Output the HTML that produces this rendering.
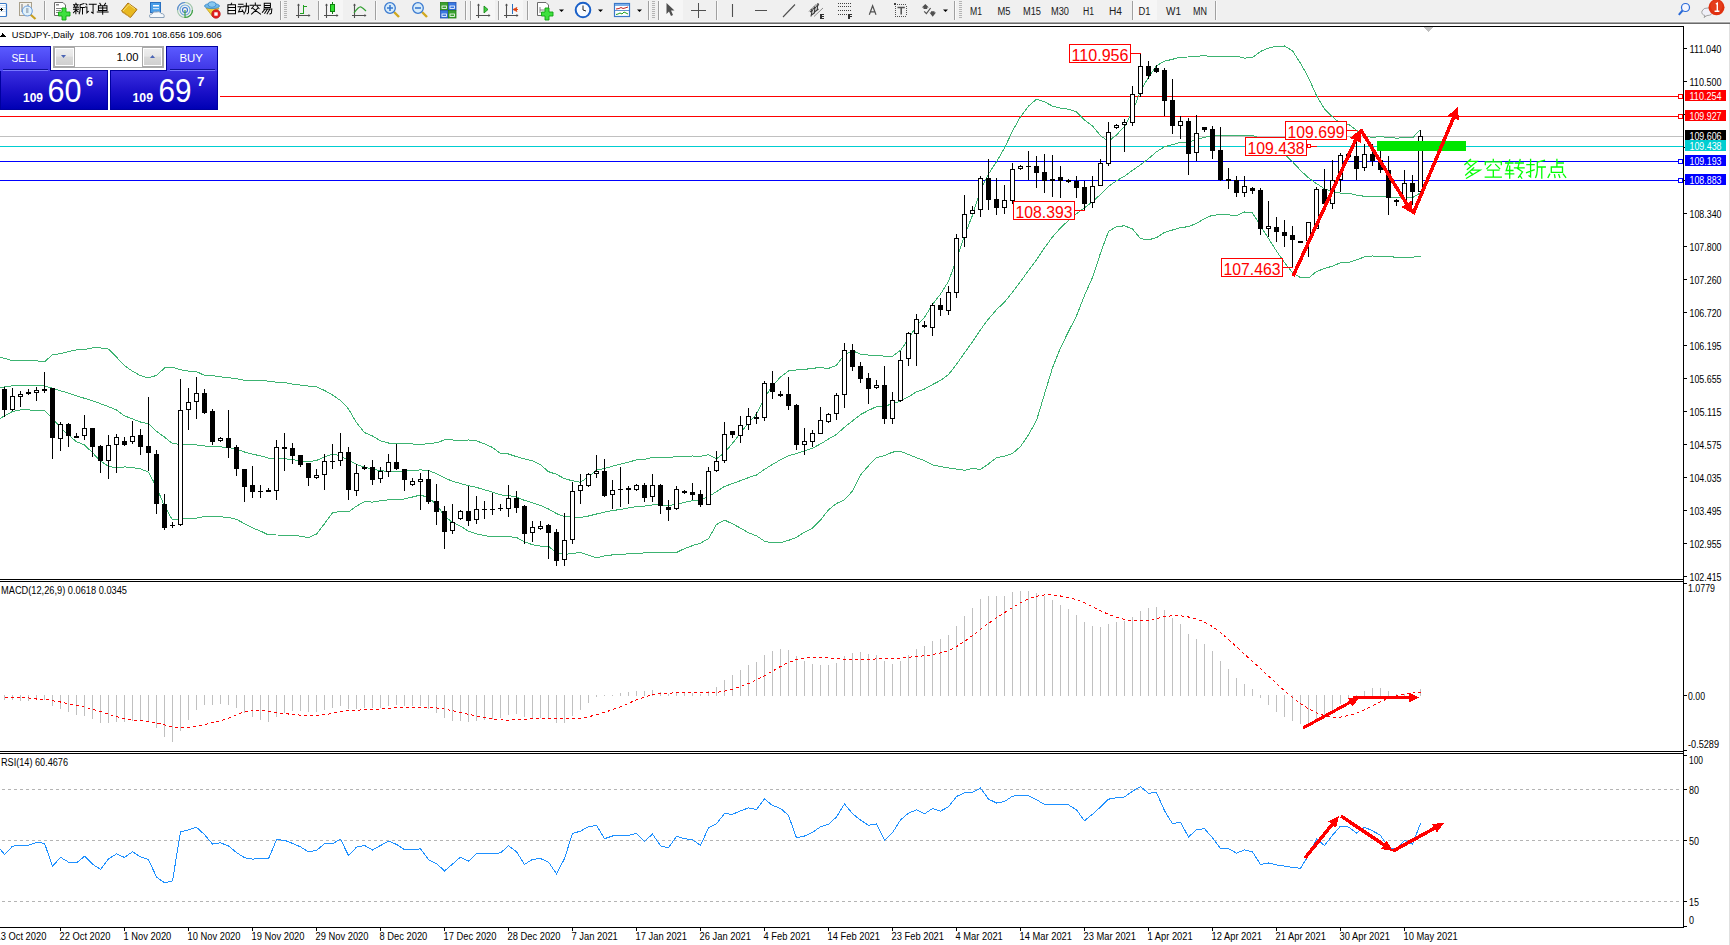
<!DOCTYPE html>
<html><head><meta charset="utf-8"><title>USDJPY Daily</title>
<style>
html,body{margin:0;padding:0;background:#fff;}
body{width:1730px;height:945px;overflow:hidden;position:relative;font-family:"Liberation Sans",sans-serif;}
svg{position:absolute;left:0;top:0;}
svg text{font-family:"Liberation Sans",sans-serif;}
</style></head><body>
<svg width="1730" height="945" viewBox="0 0 1730 945" shape-rendering="crispEdges">
<rect x="0" y="0" width="1730" height="22" fill="#f0f0f0" />
<rect x="0" y="21" width="1730" height="1" fill="#f6f6f6" />
<rect x="0" y="22" width="1730" height="1" fill="#a8a8a8" />
<rect x="0" y="23" width="1730" height="1" fill="#6a6a6a" />
<rect x="0" y="24" width="1730" height="2" fill="#ffffff" />
<rect x="318" y="0" width="25" height="20" fill="#f6f6f6" />
<rect x="470" y="0" width="25" height="20" fill="#f6f6f6" />
<rect x="498" y="0" width="25" height="20" fill="#f6f6f6" />
<rect x="658" y="0" width="25" height="20" fill="#f6f6f6" />
<rect x="1133" y="0" width="24" height="20" fill="#f6f6f6" />
<rect x="44" y="1" width="1" height="19" fill="#a0a0a0" />
<rect x="45" y="1" width="1" height="19" fill="#fafafa" />
<rect x="280" y="1" width="1" height="19" fill="#a0a0a0" />
<rect x="281" y="1" width="1" height="19" fill="#fafafa" />
<rect x="318" y="1" width="1" height="19" fill="#a0a0a0" />
<rect x="319" y="1" width="1" height="19" fill="#fafafa" />
<rect x="375" y="1" width="1" height="19" fill="#a0a0a0" />
<rect x="376" y="1" width="1" height="19" fill="#fafafa" />
<rect x="465" y="1" width="1" height="19" fill="#a0a0a0" />
<rect x="466" y="1" width="1" height="19" fill="#fafafa" />
<rect x="470" y="1" width="1" height="19" fill="#a0a0a0" />
<rect x="471" y="1" width="1" height="19" fill="#fafafa" />
<rect x="498" y="1" width="1" height="19" fill="#a0a0a0" />
<rect x="499" y="1" width="1" height="19" fill="#fafafa" />
<rect x="527" y="1" width="1" height="19" fill="#a0a0a0" />
<rect x="528" y="1" width="1" height="19" fill="#fafafa" />
<rect x="648" y="1" width="1" height="19" fill="#a0a0a0" />
<rect x="649" y="1" width="1" height="19" fill="#fafafa" />
<rect x="658" y="1" width="1" height="19" fill="#a0a0a0" />
<rect x="659" y="1" width="1" height="19" fill="#fafafa" />
<rect x="716" y="1" width="1" height="19" fill="#a0a0a0" />
<rect x="717" y="1" width="1" height="19" fill="#fafafa" />
<rect x="954" y="1" width="1" height="19" fill="#a0a0a0" />
<rect x="955" y="1" width="1" height="19" fill="#fafafa" />
<rect x="1132" y="1" width="1" height="19" fill="#a0a0a0" />
<rect x="1133" y="1" width="1" height="19" fill="#fafafa" />
<rect x="1215" y="1" width="1" height="19" fill="#a0a0a0" />
<rect x="1216" y="1" width="1" height="19" fill="#fafafa" />
<rect x="284" y="1" width="3" height="1" fill="#b4b4b4" />
<rect x="284" y="3" width="3" height="1" fill="#b4b4b4" />
<rect x="284" y="5" width="3" height="1" fill="#b4b4b4" />
<rect x="284" y="7" width="3" height="1" fill="#b4b4b4" />
<rect x="284" y="9" width="3" height="1" fill="#b4b4b4" />
<rect x="284" y="11" width="3" height="1" fill="#b4b4b4" />
<rect x="284" y="13" width="3" height="1" fill="#b4b4b4" />
<rect x="284" y="15" width="3" height="1" fill="#b4b4b4" />
<rect x="284" y="17" width="3" height="1" fill="#b4b4b4" />
<rect x="652" y="1" width="3" height="1" fill="#b4b4b4" />
<rect x="652" y="3" width="3" height="1" fill="#b4b4b4" />
<rect x="652" y="5" width="3" height="1" fill="#b4b4b4" />
<rect x="652" y="7" width="3" height="1" fill="#b4b4b4" />
<rect x="652" y="9" width="3" height="1" fill="#b4b4b4" />
<rect x="652" y="11" width="3" height="1" fill="#b4b4b4" />
<rect x="652" y="13" width="3" height="1" fill="#b4b4b4" />
<rect x="652" y="15" width="3" height="1" fill="#b4b4b4" />
<rect x="652" y="17" width="3" height="1" fill="#b4b4b4" />
<rect x="959" y="1" width="3" height="1" fill="#b4b4b4" />
<rect x="959" y="3" width="3" height="1" fill="#b4b4b4" />
<rect x="959" y="5" width="3" height="1" fill="#b4b4b4" />
<rect x="959" y="7" width="3" height="1" fill="#b4b4b4" />
<rect x="959" y="9" width="3" height="1" fill="#b4b4b4" />
<rect x="959" y="11" width="3" height="1" fill="#b4b4b4" />
<rect x="959" y="13" width="3" height="1" fill="#b4b4b4" />
<rect x="959" y="15" width="3" height="1" fill="#b4b4b4" />
<rect x="959" y="17" width="3" height="1" fill="#b4b4b4" />
<g shape-rendering="auto">
<rect x="-8" y="3.5" width="14.5" height="13" rx="1" fill="#fff" stroke="#3a7ac8" stroke-width="1.2"/>
<line x1="0" y1="5.5" x2="6" y2="5.5" stroke="#c8dcf4" stroke-width="0.8"/>
<line x1="0" y1="7.5" x2="6" y2="7.5" stroke="#c8dcf4" stroke-width="0.8"/>
<line x1="0" y1="9.5" x2="6" y2="9.5" stroke="#c8dcf4" stroke-width="0.8"/>
<line x1="0" y1="11.5" x2="6" y2="11.5" stroke="#c8dcf4" stroke-width="0.8"/>
<path d="M0,9.5 L3,9.5 M1.5,8 L1.5,11" stroke="#000" stroke-width="1"/>
<rect x="19.5" y="2.5" width="12" height="13" fill="#f4f2ec" stroke="#a89f8a" stroke-width="1"/>
<path d="M22,4 L22,12 M28,4 L28,9" stroke="#777" stroke-width="1"/>
<line x1="31" y1="15" x2="35.5" y2="19" stroke="#c8a020" stroke-width="2.2"/>
<circle cx="27.3" cy="11" r="5" fill="#e2f2fa" stroke="#6a9ee0" stroke-width="1"/>
<rect x="26" y="8" width="2.5" height="5" fill="#a8b8c8"/>
<path d="M54.5,2.5 L63,2.5 L65.5,5 L65.5,15.5 L54.5,15.5 Z" fill="#fff" stroke="#6a6a6a" stroke-width="1"/>
<rect x="56" y="4" width="3" height="1.5" fill="#888"/>
<path d="M56,8.5 L62,8.5 M56,10.5 L61,10.5 M56,12.5 L60,12.5" stroke="#777" stroke-width="0.9"/>
<path d="M62,8 L66,8 L66,12 L70,12 L70,16 L66,16 L66,20 L62,20 L62,16 L58.5,16 L58.5,12 L62,12 Z" fill="#3ee03e" stroke="#10a010" stroke-width="0.9"/>
<path d="M121.5,11 L128,3 L137,9.5 L130.5,17.5 Z" fill="#e8b820" stroke="#a87010" stroke-width="1"/>
<path d="M123,11 L129,4.5 L135,9" fill="none" stroke="#f8e070" stroke-width="1"/>
<path d="M122,12 L130.5,17.5" stroke="#d0a040" stroke-width="1"/>
<rect x="150.5" y="2.5" width="10" height="10" fill="#4a9ee8" stroke="#2a70c0" stroke-width="1"/>
<rect x="153" y="5" width="6" height="1.5" fill="#fff"/><rect x="153" y="8" width="6" height="1.2" fill="#cfe6fa"/>
<path d="M150,17.5 Q148.5,14 152,14 Q153,11 156.5,12 Q159.5,10.5 161,13.5 Q165,13.5 164,17.5 Z" fill="#f4f8fc" stroke="#8aa0b8" stroke-width="1"/>
<circle cx="185" cy="10" r="7.5" fill="none" stroke="#9cc4a8" stroke-width="1.1"/>
<path d="M185,2.5 A7.5,7.5 0 0,0 177.5,10" fill="none" stroke="#5a8ad8" stroke-width="1.1"/>
<circle cx="185" cy="10" r="5" fill="none" stroke="#6aa8d8" stroke-width="1.1"/>
<circle cx="185" cy="10" r="2.5" fill="none" stroke="#3a78d0" stroke-width="1.1"/>
<path d="M185,10 L185,17.5 A7.5,7.5 0 0,0 192.5,10" fill="none" stroke="#3aa040" stroke-width="1.2"/>
<path d="M206,8 L219,8 L213,17 Z" fill="#f0d040" stroke="#c0a020" stroke-width="0.8"/>
<ellipse cx="212" cy="6" rx="7.5" ry="2.6" fill="#70b8e8" stroke="#3a88c8" stroke-width="0.8"/>
<ellipse cx="212" cy="4.5" rx="4" ry="2.8" fill="#88c8f0" stroke="#3a88c8" stroke-width="0.8"/>
<circle cx="216" cy="14" r="4.3" fill="#e02020" stroke="#b01010" stroke-width="0.6"/>
<rect x="214.3" y="12.3" width="3.4" height="3.4" fill="#fff"/>
<path d="M298.5,4 L298.5,18 M296,15.5 L310,15.5" stroke="#505050" stroke-width="1.1"/>
<path d="M297,5.5 L298.5,3.5 L300,5.5 Z M308.5,14 L310.5,15.5 L308.5,17 Z" fill="#505050"/>
<path d="M303.5,5 L303.5,14 M300,13.5 L303.5,13.5 M303.5,6.5 L307,6.5" fill="none" stroke="#20a020" stroke-width="1.1" shape-rendering="crispEdges"/>
<path d="M326.5,4 L326.5,18 M324,15.5 L338,15.5" stroke="#505050" stroke-width="1.1"/>
<path d="M325,5.5 L326.5,3.5 L328,5.5 Z M336.5,14 L338.5,15.5 L336.5,17 Z" fill="#505050"/>
<line x1="332.5" y1="2" x2="332.5" y2="14" stroke="#108010" stroke-width="1"/>
<rect x="330.5" y="4.5" width="4" height="7" fill="#30e030" stroke="#108010" stroke-width="1"/>
<path d="M354.5,4 L354.5,18 M352,15.5 L366,15.5" stroke="#505050" stroke-width="1.1"/>
<path d="M353,5.5 L354.5,3.5 L356,5.5 Z M364.5,14 L366.5,15.5 L364.5,17 Z" fill="#505050"/>
<path d="M354,13 Q359,6 361,7 Q363,8 366,11" fill="none" stroke="#30a030" stroke-width="1.2"/>
<line x1="394" y1="12" x2="399" y2="17" stroke="#d0a820" stroke-width="2.4"/>
<circle cx="390" cy="8" r="5.3" fill="#d8ecfa" stroke="#3a7ad0" stroke-width="1.3"/>
<path d="M387,8 L393,8 M390,5 L390,11" stroke="#3a7ad0" stroke-width="1.6"/>
<line x1="422" y1="12" x2="427" y2="17" stroke="#d0a820" stroke-width="2.4"/>
<circle cx="418" cy="8" r="5.3" fill="#d8ecfa" stroke="#3a7ad0" stroke-width="1.3"/>
<path d="M415,8 L421,8" stroke="#3a7ad0" stroke-width="1.6"/>
<rect x="440.5" y="2.5" width="7.5" height="7.5" fill="#3aa030" stroke="#208010" stroke-width="0.8"/>
<rect x="442.0" y="6.0" width="4.5" height="2.5" fill="none" stroke="#fff" stroke-width="0.8"/>
<rect x="448.5" y="2.5" width="7.5" height="7.5" fill="#3a78e0" stroke="#2050b0" stroke-width="0.8"/>
<rect x="450.0" y="6.0" width="4.5" height="2.5" fill="none" stroke="#fff" stroke-width="0.8"/>
<rect x="440.5" y="10.5" width="7.5" height="7.5" fill="#3a78e0" stroke="#2050b0" stroke-width="0.8"/>
<rect x="442.0" y="14.0" width="4.5" height="2.5" fill="none" stroke="#fff" stroke-width="0.8"/>
<rect x="448.5" y="10.5" width="7.5" height="7.5" fill="#3aa030" stroke="#208010" stroke-width="0.8"/>
<rect x="450.0" y="14.0" width="4.5" height="2.5" fill="none" stroke="#fff" stroke-width="0.8"/>
<path d="M478.5,4 L478.5,18 M476,15.5 L490,15.5" stroke="#505050" stroke-width="1.1"/>
<path d="M477,5.5 L478.5,3.5 L480,5.5 Z M488.5,14 L490.5,15.5 L488.5,17 Z" fill="#505050"/>
<path d="M484,6 L488,9.5 L484,13 Z" fill="#40d040" stroke="#108010" stroke-width="0.8"/>
<path d="M506.5,4 L506.5,18 M504,15.5 L518,15.5" stroke="#505050" stroke-width="1.1"/>
<path d="M505,5.5 L506.5,3.5 L508,5.5 Z M516.5,14 L518.5,15.5 L516.5,17 Z" fill="#505050"/>
<line x1="512.5" y1="4" x2="512.5" y2="14" stroke="#2a70c0" stroke-width="1"/>
<path d="M513,9.5 L517,7.5 L516,9.5 L518,9.5 L516,9.5 L517,11.5 Z" fill="#e04010" stroke="#e04010" stroke-width="0.8"/>
<path d="M537.5,2.5 L546,2.5 L548.5,5 L548.5,15.5 L537.5,15.5 Z" fill="#fff" stroke="#6a6a6a" stroke-width="1"/>
<path d="M540,7 L540,13 M540,10 L545,10" stroke="#777" stroke-width="0.9"/>
<path d="M545,8 L549,8 L549,12 L553,12 L553,16 L549,16 L549,20 L545,20 L545,16 L541.5,16 L541.5,12 L545,12 Z" fill="#3ee03e" stroke="#10a010" stroke-width="0.9"/>
<path d="M559,9.5 L564,9.5 L561.5,12 Z" fill="#000"/>
<path d="M598,9.5 L603,9.5 L600.5,12 Z" fill="#000"/>
<path d="M637,9.5 L642,9.5 L639.5,12 Z" fill="#000"/>
<path d="M943,9.5 L948,9.5 L945.5,12 Z" fill="#000"/>
<circle cx="583" cy="10" r="7.3" fill="#f8fbff" stroke="#1a60c8" stroke-width="2"/>
<path d="M583,5.5 L583,10 L586,11" fill="none" stroke="#202020" stroke-width="1"/>
<rect x="614.5" y="3.5" width="15" height="13" fill="#fff" stroke="#3a78c8" stroke-width="1.2"/>
<rect x="615" y="4" width="14" height="2" fill="#7aaee8"/>
<line x1="615" y1="10.5" x2="629" y2="10.5" stroke="#3a78c8" stroke-width="0.8"/>
<path d="M616,9 L619,8.5 L621,7.5 L623,8.5 L625,8 L628,7" fill="none" stroke="#c02020" stroke-width="1"/>
<path d="M616,14.5 L618,14 L620,13 L622,14 L624,12 L626,13 L628,14" fill="none" stroke="#20a020" stroke-width="1"/>
<path d="M666.5,3 L666.5,14 L669,11.5 L671,16 L673,15 L671,10.5 L674.5,10.5 Z" fill="#505050"/>
<path d="M691,10.5 L706,10.5 M698.5,3 L698.5,18" stroke="#505050" stroke-width="1"/>
<path d="M732.5,4 L732.5,17 M755,10.5 L767,10.5 M783,17 L795,4.5" stroke="#505050" stroke-width="1.1"/>
<path d="M809,11.5 L816.5,4 M814,16.5 L823,8" stroke="#707070" stroke-width="0.8"/>
<path d="M811,16.5 L812,11 L811,9 M814,13.5 L815,8 L814,6.5 M817,10.5 L818,3 M810,12 L813,10 M812.5,9.5 L816,7 M816,6.5 L819,4.5 M811.5,15 L815,12.5 M814.5,12 L818.5,9" fill="none" stroke="#3a3a3a" stroke-width="1.1"/>
<path d="M820.5,14.5 L824,14.5 M820.5,16.5 L823.5,16.5 M820.5,18.5 L824,18.5 M821,14 L821,19" fill="none" stroke="#303030" stroke-width="1.2" shape-rendering="crispEdges"/>
<rect x="838" y="3" width="1" height="1" fill="#404040" shape-rendering="crispEdges"/>
<rect x="840" y="3" width="1" height="1" fill="#404040" shape-rendering="crispEdges"/>
<rect x="842" y="3" width="1" height="1" fill="#404040" shape-rendering="crispEdges"/>
<rect x="844" y="3" width="1" height="1" fill="#404040" shape-rendering="crispEdges"/>
<rect x="846" y="3" width="1" height="1" fill="#404040" shape-rendering="crispEdges"/>
<rect x="848" y="3" width="1" height="1" fill="#404040" shape-rendering="crispEdges"/>
<rect x="850" y="3" width="1" height="1" fill="#404040" shape-rendering="crispEdges"/>
<rect x="838" y="6" width="1" height="1" fill="#404040" shape-rendering="crispEdges"/>
<rect x="840" y="6" width="1" height="1" fill="#404040" shape-rendering="crispEdges"/>
<rect x="842" y="6" width="1" height="1" fill="#404040" shape-rendering="crispEdges"/>
<rect x="844" y="6" width="1" height="1" fill="#404040" shape-rendering="crispEdges"/>
<rect x="846" y="6" width="1" height="1" fill="#404040" shape-rendering="crispEdges"/>
<rect x="848" y="6" width="1" height="1" fill="#404040" shape-rendering="crispEdges"/>
<rect x="850" y="6" width="1" height="1" fill="#404040" shape-rendering="crispEdges"/>
<rect x="838" y="10" width="1" height="1" fill="#404040" shape-rendering="crispEdges"/>
<rect x="840" y="10" width="1" height="1" fill="#404040" shape-rendering="crispEdges"/>
<rect x="842" y="10" width="1" height="1" fill="#404040" shape-rendering="crispEdges"/>
<rect x="844" y="10" width="1" height="1" fill="#404040" shape-rendering="crispEdges"/>
<rect x="846" y="10" width="1" height="1" fill="#404040" shape-rendering="crispEdges"/>
<rect x="848" y="10" width="1" height="1" fill="#404040" shape-rendering="crispEdges"/>
<rect x="850" y="10" width="1" height="1" fill="#404040" shape-rendering="crispEdges"/>
<rect x="838" y="14" width="1" height="1" fill="#404040" shape-rendering="crispEdges"/>
<rect x="840" y="14" width="1" height="1" fill="#404040" shape-rendering="crispEdges"/>
<rect x="842" y="14" width="1" height="1" fill="#404040" shape-rendering="crispEdges"/>
<rect x="844" y="14" width="1" height="1" fill="#404040" shape-rendering="crispEdges"/>
<rect x="846" y="14" width="1" height="1" fill="#404040" shape-rendering="crispEdges"/>
<path d="M848.5,14.5 L852,14.5 M848.5,16.5 L851.5,16.5 M849,14 L849,19" fill="none" stroke="#303030" stroke-width="1.2" shape-rendering="crispEdges"/>
<path d="M869.3,14.8 L872.6,5.8 L876,14.8 M870.6,11.8 L874.6,11.8" fill="none" stroke="#505050" stroke-width="1.2"/>
<rect x="895" y="4" width="1" height="1" fill="#505050" shape-rendering="crispEdges"/><rect x="895" y="16" width="1" height="1" fill="#505050" shape-rendering="crispEdges"/>
<rect x="897" y="4" width="1" height="1" fill="#505050" shape-rendering="crispEdges"/><rect x="897" y="16" width="1" height="1" fill="#505050" shape-rendering="crispEdges"/>
<rect x="899" y="4" width="1" height="1" fill="#505050" shape-rendering="crispEdges"/><rect x="899" y="16" width="1" height="1" fill="#505050" shape-rendering="crispEdges"/>
<rect x="901" y="4" width="1" height="1" fill="#505050" shape-rendering="crispEdges"/><rect x="901" y="16" width="1" height="1" fill="#505050" shape-rendering="crispEdges"/>
<rect x="903" y="4" width="1" height="1" fill="#505050" shape-rendering="crispEdges"/><rect x="903" y="16" width="1" height="1" fill="#505050" shape-rendering="crispEdges"/>
<rect x="905" y="4" width="1" height="1" fill="#505050" shape-rendering="crispEdges"/><rect x="905" y="16" width="1" height="1" fill="#505050" shape-rendering="crispEdges"/>
<rect x="895" y="6" width="1" height="1" fill="#505050" shape-rendering="crispEdges"/><rect x="906" y="6" width="1" height="1" fill="#505050" shape-rendering="crispEdges"/>
<rect x="895" y="8" width="1" height="1" fill="#505050" shape-rendering="crispEdges"/><rect x="906" y="8" width="1" height="1" fill="#505050" shape-rendering="crispEdges"/>
<rect x="895" y="10" width="1" height="1" fill="#505050" shape-rendering="crispEdges"/><rect x="906" y="10" width="1" height="1" fill="#505050" shape-rendering="crispEdges"/>
<rect x="895" y="12" width="1" height="1" fill="#505050" shape-rendering="crispEdges"/><rect x="906" y="12" width="1" height="1" fill="#505050" shape-rendering="crispEdges"/>
<rect x="895" y="14" width="1" height="1" fill="#505050" shape-rendering="crispEdges"/><rect x="906" y="14" width="1" height="1" fill="#505050" shape-rendering="crispEdges"/>
<rect x="894" y="3" width="2" height="2" fill="#404040"/>
<path d="M897.5,7.5 L904.8,7.5 M901.2,7.5 L901.2,14.5" fill="none" stroke="#505050" stroke-width="1.5"/>
<path d="M921.8,7.6 L925.3,4 L928.8,7.6 Z M923.5,7.5 L927.2,7.5 L927.2,9 L923.5,9 Z M929.5,12.5 L936,12.5 L932.7,16.8 Z M931,11.2 L934.5,11.2 L934.5,12.6 L931,12.6 Z" fill="#505050"/>
<path d="M924.2,11.3 L926.4,13.6 L930.6,8" fill="none" stroke="#505050" stroke-width="1.2"/>
<circle cx="1685.5" cy="7.5" r="4" fill="#f4f6ff" stroke="#2a6ad8" stroke-width="1.2"/>
<line x1="1682.5" y1="10.5" x2="1678.8" y2="14.8" stroke="#2a6ad8" stroke-width="2"/>
<path d="M1704,17.5 L1705,15.5 Q1701,14.5 1702,11 Q1703.5,7.5 1708,8 Q1713,8.5 1712.5,12 Q1712,15.5 1707,15.5 Z" fill="#f0f0f8" stroke="#9a9a9a" stroke-width="0.9"/>
<circle cx="1716.5" cy="7.3" r="8" fill="#e0300f"/>
<circle cx="1716.5" cy="6" r="6" fill="#e84a28" opacity="0.5"/>
<path d="M1715.8,4 L1717.3,3.2 L1717.3,11 M1714.6,11.3 L1719.4,11.3" stroke="#fff" stroke-width="1.4" fill="none"/>
</g>
<path transform="translate(73.00,2.8) scale(0.95)" d="M3,0.5 L3.5,1.5 M0.5,2 L5.5,2 M1.5,3 L2,4.2 M4.5,3 L4,4.2 M0.5,4.8 L5.8,4.8 M0.5,6.8 L5.8,6.8 M3,4.8 L3,11.5 M3,7.5 L0.5,10.5 M3,7.5 L5.5,9.5 M11.5,0.8 L7.5,2 M7.5,2 L7.5,7 Q7.3,10 6.5,11.5 M7.5,5 L12,5 M10,5 L10,11.8" fill="none" stroke="#000" stroke-width="1.053" stroke-linecap="square" shape-rendering="auto"/>
<path transform="translate(85.00,2.8) scale(0.95)" d="M1,1 L2,2.2 M0.5,4.5 L2,4.5 L2,10.5 L3.5,9 M4.5,1.5 L11.8,1.5 M8.5,1.5 L8.5,11 L7,10" fill="none" stroke="#000" stroke-width="1.053" stroke-linecap="square" shape-rendering="auto"/>
<path transform="translate(97.00,2.8) scale(0.95)" d="M3,0.5 L4,2 M9,0.5 L8,2 M1.5,3 L10.5,3 L10.5,8 L1.5,8 Z M1.5,5.5 L10.5,5.5 M0.3,9.7 L11.7,9.7 M6,3 L6,12" fill="none" stroke="#000" stroke-width="1.053" stroke-linecap="square" shape-rendering="auto"/>
<path transform="translate(226.00,2.8) scale(0.95)" d="M6,0.3 L5,2 M2,2 L10,2 L10,11.5 L2,11.5 Z M2,5 L10,5 M2,8.2 L10,8.2" fill="none" stroke="#000" stroke-width="1.053" stroke-linecap="square" shape-rendering="auto"/>
<path transform="translate(237.80,2.8) scale(0.95)" d="M0.8,1.5 L5.5,1.5 M0.3,4.2 L6,4.2 M3,4.2 L0.8,9.5 L5.5,9 M4.5,7.5 L6,10 M6.5,3.5 L11.5,3.5 L11.2,10.5 L10,11.5 M9,0.5 L9,4 Q8.7,9 6.5,11.8" fill="none" stroke="#000" stroke-width="1.053" stroke-linecap="square" shape-rendering="auto"/>
<path transform="translate(249.60,2.8) scale(0.95)" d="M6,0.3 L6,2 M0.5,2.5 L11.5,2.5 M4,3.8 L2,6 M8,3.8 L10,6 M8.5,6 L2,11.8 M3.5,6 L11.5,11.8" fill="none" stroke="#000" stroke-width="1.053" stroke-linecap="square" shape-rendering="auto"/>
<path transform="translate(261.40,2.8) scale(0.95)" d="M3,0.5 L9.5,0.5 L9.5,5 L3,5 Z M3,2.8 L9.5,2.8 M2.5,6.5 L11,6.5 L10.5,11 L9,11.8 M4,6.5 L1,10 M6.5,6.5 L3.5,11 M9,6.5 L6,11.5" fill="none" stroke="#000" stroke-width="1.053" stroke-linecap="square" shape-rendering="auto"/>
<text x="970" y="14.5" font-size="10" fill="#202020" text-anchor="start" font-weight="normal" textLength="12" lengthAdjust="spacingAndGlyphs">M1</text>
<text x="997.5" y="14.5" font-size="10" fill="#202020" text-anchor="start" font-weight="normal" textLength="13" lengthAdjust="spacingAndGlyphs">M5</text>
<text x="1023" y="14.5" font-size="10" fill="#202020" text-anchor="start" font-weight="normal" textLength="18" lengthAdjust="spacingAndGlyphs">M15</text>
<text x="1051" y="14.5" font-size="10" fill="#202020" text-anchor="start" font-weight="normal" textLength="18" lengthAdjust="spacingAndGlyphs">M30</text>
<text x="1083" y="14.5" font-size="10" fill="#202020" text-anchor="start" font-weight="normal" textLength="11" lengthAdjust="spacingAndGlyphs">H1</text>
<text x="1109" y="14.5" font-size="10" fill="#202020" text-anchor="start" font-weight="normal" textLength="13" lengthAdjust="spacingAndGlyphs">H4</text>
<text x="1138.5" y="14.5" font-size="10" fill="#202020" text-anchor="start" font-weight="normal" textLength="12" lengthAdjust="spacingAndGlyphs">D1</text>
<text x="1166" y="14.5" font-size="10" fill="#202020" text-anchor="start" font-weight="normal" textLength="15" lengthAdjust="spacingAndGlyphs">W1</text>
<text x="1193" y="14.5" font-size="10" fill="#202020" text-anchor="start" font-weight="normal" textLength="14" lengthAdjust="spacingAndGlyphs">MN</text>
<rect x="0" y="96" width="1678" height="1" fill="#ff0000"/>
<rect x="0" y="116" width="1678" height="1" fill="#ff0000"/>
<rect x="0" y="136" width="1683" height="1" fill="#c0c0c0"/>
<rect x="0" y="146" width="1683" height="1" fill="#00ced1"/>
<rect x="0" y="161" width="1678" height="1" fill="#0000ff"/>
<rect x="0" y="180" width="1678" height="1" fill="#0000ff"/>
<rect x="1678.5" y="94.5" width="4" height="4" fill="#fff" stroke="#ff0000" stroke-width="1"/>
<rect x="1678.5" y="114.5" width="4" height="4" fill="#fff" stroke="#ff0000" stroke-width="1"/>
<rect x="1678.5" y="159.5" width="4" height="4" fill="#fff" stroke="#0000ff" stroke-width="1"/>
<rect x="1678.5" y="178.5" width="4" height="4" fill="#fff" stroke="#0000ff" stroke-width="1"/>
<polyline points="-3.5,356.2 4.5,358.4 12.5,360.6 20.5,360.8 28.5,360.8 36.5,360.8 44.5,361.8 52.5,354.8 60.5,353.6 68.5,351.6 76.5,349.8 84.5,349.6 92.5,347.9 100.5,347.9 108.5,349.1 116.5,357.1 124.5,365.7 132.5,371.2 140.5,375.7 148.5,377.9 156.5,375.4 164.5,368.0 172.5,367.1 180.5,369.7 188.5,371.1 196.5,371.6 204.5,375.4 212.5,375.6 220.5,376.9 228.5,377.7 236.5,378.7 244.5,380.4 252.5,380.6 260.5,380.4 268.5,381.2 276.5,382.2 284.5,382.4 292.5,384.1 300.5,385.1 308.5,386.1 316.5,386.9 324.5,390.4 332.5,395.0 340.5,400.5 348.5,408.8 356.5,422.7 364.5,432.6 372.5,436.0 380.5,440.8 388.5,443.0 396.5,443.0 404.5,443.3 412.5,444.0 420.5,444.9 428.5,443.2 436.5,442.9 444.5,439.9 452.5,439.9 460.5,440.9 468.5,440.0 476.5,440.8 484.5,443.9 492.5,447.4 500.5,453.6 508.5,454.0 516.5,456.7 524.5,458.9 532.5,460.7 540.5,464.8 548.5,471.7 556.5,474.3 564.5,478.7 572.5,480.8 580.5,482.3 588.5,476.7 596.5,470.1 604.5,468.5 612.5,466.2 620.5,464.2 628.5,462.1 636.5,459.9 644.5,459.3 652.5,457.3 660.5,457.2 668.5,457.8 676.5,456.4 684.5,456.2 692.5,456.0 700.5,456.4 708.5,454.6 716.5,458.8 724.5,452.6 732.5,443.3 740.5,433.0 748.5,422.5 756.5,414.2 764.5,397.5 772.5,386.0 780.5,377.0 788.5,370.9 796.5,369.9 804.5,369.5 812.5,368.2 820.5,367.7 828.5,368.4 836.5,365.3 844.5,354.6 852.5,350.8 860.5,354.1 868.5,355.1 876.5,355.6 884.5,356.1 892.5,356.2 900.5,350.4 908.5,339.0 916.5,325.9 924.5,317.4 932.5,304.4 940.5,294.1 948.5,281.3 956.5,259.5 964.5,235.6 972.5,215.2 980.5,189.9 988.5,174.1 996.5,161.7 1004.5,148.1 1012.5,131.0 1020.5,116.7 1028.5,106.1 1036.5,99.2 1044.5,101.8 1052.5,106.1 1060.5,108.1 1068.5,109.3 1076.5,111.8 1084.5,120.0 1092.5,126.0 1100.5,135.7 1108.5,141.4 1116.5,134.9 1124.5,126.5 1132.5,111.8 1140.5,90.9 1148.5,77.3 1156.5,65.8 1164.5,61.2 1172.5,59.3 1180.5,57.1 1188.5,57.0 1196.5,56.2 1204.5,55.8 1212.5,56.5 1220.5,56.6 1228.5,56.6 1236.5,56.2 1244.5,58.1 1252.5,57.6 1260.5,51.4 1268.5,48.1 1276.5,46.3 1284.5,46.0 1292.5,50.7 1300.5,63.3 1308.5,77.5 1316.5,95.7 1324.5,109.0 1332.5,116.8 1340.5,123.6 1348.5,124.1 1356.5,130.4 1364.5,135.7 1372.5,137.6 1380.5,136.4 1388.5,137.7 1396.5,138.1 1404.5,137.8 1412.5,137.9 1420.5,129.6" fill="none" stroke="#3cb371" stroke-width="1" shape-rendering="crispEdges" />
<polyline points="-3.5,388.2 4.5,387.0 12.5,385.8 20.5,385.8 28.5,385.8 36.5,385.8 44.5,385.8 52.5,388.3 60.5,390.8 68.5,393.1 76.5,395.8 84.5,398.3 92.5,400.8 100.5,403.7 108.5,406.7 116.5,409.9 124.5,415.9 132.5,418.9 140.5,422.0 148.5,423.8 156.5,431.2 164.5,437.1 172.5,443.6 180.5,444.4 188.5,444.8 196.5,444.9 204.5,446.0 212.5,446.2 220.5,446.9 228.5,447.5 236.5,449.1 244.5,452.0 252.5,454.2 260.5,455.8 268.5,458.1 276.5,458.6 284.5,458.7 292.5,459.7 300.5,460.6 308.5,461.9 316.5,460.4 324.5,457.1 332.5,453.9 340.5,456.0 348.5,460.4 356.5,464.4 364.5,467.2 372.5,469.1 380.5,470.7 388.5,471.4 396.5,471.4 404.5,471.1 412.5,470.5 420.5,469.9 428.5,470.4 436.5,473.7 444.5,477.9 452.5,481.2 460.5,483.5 468.5,485.6 476.5,487.4 484.5,489.8 492.5,492.1 500.5,494.9 508.5,495.4 516.5,497.1 524.5,500.4 532.5,502.7 540.5,505.4 548.5,509.0 556.5,513.6 564.5,516.6 572.5,517.1 580.5,517.4 588.5,516.0 596.5,514.0 604.5,512.1 612.5,510.6 620.5,509.4 628.5,507.9 636.5,506.6 644.5,506.1 652.5,504.9 660.5,504.8 668.5,505.4 676.5,504.4 684.5,502.4 692.5,500.8 700.5,499.8 708.5,496.6 716.5,491.6 724.5,486.4 732.5,483.6 740.5,480.6 748.5,477.6 756.5,475.0 764.5,469.4 772.5,464.4 780.5,459.8 788.5,455.6 796.5,453.6 804.5,450.8 812.5,448.2 820.5,443.9 828.5,439.1 836.5,434.4 844.5,427.2 852.5,420.9 860.5,414.6 868.5,410.4 876.5,406.6 884.5,405.9 892.5,404.1 900.5,400.9 908.5,396.8 916.5,391.8 924.5,389.0 932.5,384.6 940.5,380.4 948.5,374.6 956.5,364.3 964.5,352.9 972.5,341.8 980.5,329.7 988.5,319.0 996.5,309.6 1004.5,302.1 1012.5,292.2 1020.5,281.6 1028.5,270.4 1036.5,259.9 1044.5,247.9 1052.5,236.9 1060.5,228.0 1068.5,220.4 1076.5,213.8 1084.5,207.7 1092.5,201.8 1100.5,194.4 1108.5,186.4 1116.5,180.8 1124.5,176.2 1132.5,170.3 1140.5,164.8 1148.5,158.6 1156.5,151.8 1164.5,146.8 1172.5,144.7 1180.5,142.4 1188.5,141.8 1196.5,139.8 1204.5,137.2 1212.5,135.8 1220.5,135.8 1228.5,135.7 1236.5,135.9 1244.5,135.1 1252.5,135.3 1260.5,138.6 1268.5,143.3 1276.5,148.7 1284.5,154.3 1292.5,161.7 1300.5,170.4 1308.5,177.8 1316.5,183.6 1324.5,188.8 1332.5,191.4 1340.5,193.2 1348.5,193.3 1356.5,195.1 1364.5,196.3 1372.5,196.8 1380.5,196.3 1388.5,197.2 1396.5,197.7 1404.5,197.5 1412.5,197.6 1420.5,192.9" fill="none" stroke="#3cb371" stroke-width="1" shape-rendering="crispEdges" />
<polyline points="-3.5,420.4 4.5,415.9 12.5,411.4 20.5,409.9 28.5,409.9 36.5,410.7 44.5,410.7 52.5,417.9 60.5,428.1 68.5,434.9 76.5,441.7 84.5,444.9 92.5,452.7 100.5,461.1 108.5,466.2 116.5,467.9 124.5,466.9 132.5,467.5 140.5,468.9 148.5,472.1 156.5,487.0 164.5,506.2 172.5,520.0 180.5,519.0 188.5,518.4 196.5,518.2 204.5,516.6 212.5,516.8 220.5,516.9 228.5,517.3 236.5,519.4 244.5,523.6 252.5,527.9 260.5,531.1 268.5,534.9 276.5,535.0 284.5,535.1 292.5,535.4 300.5,536.1 308.5,537.7 316.5,534.0 324.5,523.7 332.5,512.7 340.5,511.4 348.5,512.0 356.5,506.1 364.5,501.7 372.5,502.1 380.5,500.7 388.5,499.9 396.5,499.9 404.5,498.9 412.5,497.0 420.5,495.0 428.5,497.7 436.5,504.5 444.5,515.9 452.5,522.5 460.5,526.1 468.5,531.3 476.5,533.9 484.5,535.6 492.5,536.9 500.5,536.3 508.5,536.7 516.5,537.5 524.5,541.8 532.5,544.7 540.5,546.1 548.5,546.3 556.5,552.9 564.5,554.5 572.5,553.4 580.5,552.5 588.5,555.3 596.5,557.8 604.5,555.8 612.5,554.9 620.5,554.7 628.5,553.6 636.5,553.4 644.5,552.9 652.5,552.5 660.5,552.4 668.5,553.0 676.5,552.5 684.5,548.6 692.5,545.6 700.5,543.1 708.5,538.7 716.5,524.5 724.5,520.1 732.5,523.8 740.5,528.1 748.5,532.8 756.5,535.8 764.5,541.2 772.5,542.9 780.5,542.6 788.5,540.4 796.5,537.4 804.5,532.1 812.5,528.2 820.5,520.1 828.5,509.8 836.5,503.5 844.5,499.9 852.5,490.9 860.5,475.0 868.5,465.8 876.5,457.7 884.5,455.7 892.5,452.1 900.5,451.4 908.5,454.5 916.5,457.7 924.5,460.6 932.5,464.9 940.5,466.6 948.5,468.0 956.5,469.1 964.5,470.3 972.5,468.4 980.5,469.5 988.5,463.9 996.5,457.6 1004.5,456.2 1012.5,453.5 1020.5,446.5 1028.5,434.8 1036.5,420.5 1044.5,394.1 1052.5,367.8 1060.5,347.9 1068.5,331.5 1076.5,315.9 1084.5,295.4 1092.5,277.5 1100.5,253.1 1108.5,231.4 1116.5,226.6 1124.5,225.8 1132.5,228.9 1140.5,238.6 1148.5,239.8 1156.5,237.7 1164.5,232.4 1172.5,230.0 1180.5,227.7 1188.5,226.6 1196.5,223.4 1204.5,218.7 1212.5,215.1 1220.5,214.9 1228.5,214.8 1236.5,215.7 1244.5,212.0 1252.5,213.0 1260.5,225.8 1268.5,238.5 1276.5,251.0 1284.5,262.7 1292.5,272.6 1300.5,277.6 1308.5,278.0 1316.5,271.5 1324.5,268.5 1332.5,266.1 1340.5,262.7 1348.5,262.5 1356.5,259.8 1364.5,256.9 1372.5,256.0 1380.5,256.2 1388.5,256.7 1396.5,257.2 1404.5,257.2 1412.5,257.2 1420.5,256.2" fill="none" stroke="#3cb371" stroke-width="1" shape-rendering="crispEdges" />
<rect x="4" y="387" width="1" height="30" fill="#000"/>
<rect x="2" y="389" width="5" height="21" fill="#000"/>
<rect x="12" y="388" width="1" height="23" fill="#000"/>
<rect x="10" y="396" width="5" height="14" fill="#000"/>
<rect x="11" y="397" width="3" height="12" fill="#fff"/>
<rect x="20" y="391" width="1" height="16" fill="#000"/>
<rect x="18" y="394" width="5" height="3" fill="#000"/>
<rect x="19" y="395" width="3" height="1" fill="#fff"/>
<rect x="28" y="389" width="1" height="6" fill="#000"/>
<rect x="26" y="392" width="5" height="2" fill="#000"/>
<rect x="36" y="387" width="1" height="14" fill="#000"/>
<rect x="34" y="390" width="5" height="3" fill="#000"/>
<rect x="35" y="391" width="3" height="1" fill="#fff"/>
<rect x="44" y="372" width="1" height="21" fill="#000"/>
<rect x="42" y="389" width="5" height="2" fill="#000"/>
<rect x="52" y="388" width="1" height="71" fill="#000"/>
<rect x="50" y="388" width="5" height="50" fill="#000"/>
<rect x="60" y="422" width="1" height="29" fill="#000"/>
<rect x="58" y="424" width="5" height="15" fill="#000"/>
<rect x="59" y="425" width="3" height="13" fill="#fff"/>
<rect x="68" y="423" width="1" height="24" fill="#000"/>
<rect x="66" y="424" width="5" height="12" fill="#000"/>
<rect x="76" y="433" width="1" height="5" fill="#000"/>
<rect x="74" y="436" width="5" height="2" fill="#000"/>
<rect x="84" y="415" width="1" height="25" fill="#000"/>
<rect x="82" y="428" width="5" height="8" fill="#000"/>
<rect x="83" y="429" width="3" height="6" fill="#fff"/>
<rect x="92" y="428" width="1" height="29" fill="#000"/>
<rect x="90" y="428" width="5" height="19" fill="#000"/>
<rect x="100" y="445" width="1" height="28" fill="#000"/>
<rect x="98" y="446" width="5" height="15" fill="#000"/>
<rect x="108" y="435" width="1" height="44" fill="#000"/>
<rect x="106" y="445" width="5" height="16" fill="#000"/>
<rect x="107" y="446" width="3" height="14" fill="#fff"/>
<rect x="116" y="434" width="1" height="39" fill="#000"/>
<rect x="114" y="437" width="5" height="8" fill="#000"/>
<rect x="115" y="438" width="3" height="6" fill="#fff"/>
<rect x="124" y="437" width="1" height="9" fill="#000"/>
<rect x="122" y="441" width="5" height="4" fill="#000"/>
<rect x="132" y="421" width="1" height="23" fill="#000"/>
<rect x="130" y="436" width="5" height="6" fill="#000"/>
<rect x="131" y="437" width="3" height="4" fill="#fff"/>
<rect x="140" y="429" width="1" height="26" fill="#000"/>
<rect x="138" y="435" width="5" height="12" fill="#000"/>
<rect x="148" y="397" width="1" height="74" fill="#000"/>
<rect x="146" y="446" width="5" height="7" fill="#000"/>
<rect x="156" y="450" width="1" height="64" fill="#000"/>
<rect x="154" y="454" width="5" height="50" fill="#000"/>
<rect x="164" y="494" width="1" height="36" fill="#000"/>
<rect x="162" y="504" width="5" height="24" fill="#000"/>
<rect x="172" y="522" width="1" height="6" fill="#000"/>
<rect x="170" y="525" width="5" height="1" fill="#000"/>
<rect x="180" y="379" width="1" height="147" fill="#000"/>
<rect x="178" y="410" width="5" height="115" fill="#000"/>
<rect x="179" y="411" width="3" height="113" fill="#fff"/>
<rect x="188" y="388" width="1" height="42" fill="#000"/>
<rect x="186" y="402" width="5" height="8" fill="#000"/>
<rect x="187" y="403" width="3" height="6" fill="#fff"/>
<rect x="196" y="377" width="1" height="42" fill="#000"/>
<rect x="194" y="393" width="5" height="9" fill="#000"/>
<rect x="195" y="394" width="3" height="7" fill="#fff"/>
<rect x="204" y="389" width="1" height="25" fill="#000"/>
<rect x="202" y="393" width="5" height="20" fill="#000"/>
<rect x="212" y="409" width="1" height="36" fill="#000"/>
<rect x="210" y="411" width="5" height="31" fill="#000"/>
<rect x="220" y="437" width="1" height="5" fill="#000"/>
<rect x="218" y="438" width="5" height="3" fill="#000"/>
<rect x="219" y="439" width="3" height="1" fill="#fff"/>
<rect x="228" y="410" width="1" height="48" fill="#000"/>
<rect x="226" y="438" width="5" height="10" fill="#000"/>
<rect x="236" y="445" width="1" height="31" fill="#000"/>
<rect x="234" y="447" width="5" height="22" fill="#000"/>
<rect x="244" y="469" width="1" height="33" fill="#000"/>
<rect x="242" y="469" width="5" height="18" fill="#000"/>
<rect x="252" y="466" width="1" height="32" fill="#000"/>
<rect x="250" y="485" width="5" height="7" fill="#000"/>
<rect x="260" y="485" width="1" height="13" fill="#000"/>
<rect x="258" y="491" width="5" height="1" fill="#000"/>
<rect x="268" y="488" width="1" height="4" fill="#000"/>
<rect x="266" y="490" width="5" height="2" fill="#000"/>
<rect x="276" y="440" width="1" height="60" fill="#000"/>
<rect x="274" y="447" width="5" height="44" fill="#000"/>
<rect x="275" y="448" width="3" height="42" fill="#fff"/>
<rect x="284" y="433" width="1" height="38" fill="#000"/>
<rect x="282" y="447" width="5" height="2" fill="#000"/>
<rect x="292" y="443" width="1" height="21" fill="#000"/>
<rect x="290" y="448" width="5" height="8" fill="#000"/>
<rect x="300" y="455" width="1" height="12" fill="#000"/>
<rect x="298" y="455" width="5" height="10" fill="#000"/>
<rect x="308" y="463" width="1" height="23" fill="#000"/>
<rect x="306" y="463" width="5" height="15" fill="#000"/>
<rect x="316" y="469" width="1" height="10" fill="#000"/>
<rect x="314" y="475" width="5" height="3" fill="#000"/>
<rect x="315" y="476" width="3" height="1" fill="#fff"/>
<rect x="324" y="454" width="1" height="36" fill="#000"/>
<rect x="322" y="461" width="5" height="14" fill="#000"/>
<rect x="323" y="462" width="3" height="12" fill="#fff"/>
<rect x="332" y="444" width="1" height="25" fill="#000"/>
<rect x="330" y="461" width="5" height="1" fill="#000"/>
<rect x="340" y="433" width="1" height="33" fill="#000"/>
<rect x="338" y="452" width="5" height="9" fill="#000"/>
<rect x="339" y="453" width="3" height="7" fill="#fff"/>
<rect x="348" y="447" width="1" height="53" fill="#000"/>
<rect x="346" y="452" width="5" height="38" fill="#000"/>
<rect x="356" y="464" width="1" height="32" fill="#000"/>
<rect x="354" y="473" width="5" height="18" fill="#000"/>
<rect x="355" y="474" width="3" height="16" fill="#fff"/>
<rect x="364" y="465" width="1" height="5" fill="#000"/>
<rect x="362" y="467" width="5" height="2" fill="#000"/>
<rect x="372" y="460" width="1" height="25" fill="#000"/>
<rect x="370" y="467" width="5" height="13" fill="#000"/>
<rect x="380" y="467" width="1" height="16" fill="#000"/>
<rect x="378" y="471" width="5" height="8" fill="#000"/>
<rect x="379" y="472" width="3" height="6" fill="#fff"/>
<rect x="388" y="454" width="1" height="23" fill="#000"/>
<rect x="386" y="462" width="5" height="10" fill="#000"/>
<rect x="387" y="463" width="3" height="8" fill="#fff"/>
<rect x="396" y="444" width="1" height="26" fill="#000"/>
<rect x="394" y="462" width="5" height="7" fill="#000"/>
<rect x="404" y="469" width="1" height="22" fill="#000"/>
<rect x="402" y="469" width="5" height="11" fill="#000"/>
<rect x="412" y="478" width="1" height="8" fill="#000"/>
<rect x="410" y="481" width="5" height="4" fill="#000"/>
<rect x="411" y="482" width="3" height="2" fill="#fff"/>
<rect x="420" y="473" width="1" height="37" fill="#000"/>
<rect x="418" y="479" width="5" height="3" fill="#000"/>
<rect x="419" y="480" width="3" height="1" fill="#fff"/>
<rect x="428" y="470" width="1" height="34" fill="#000"/>
<rect x="426" y="479" width="5" height="23" fill="#000"/>
<rect x="436" y="484" width="1" height="41" fill="#000"/>
<rect x="434" y="501" width="5" height="11" fill="#000"/>
<rect x="444" y="506" width="1" height="43" fill="#000"/>
<rect x="442" y="511" width="5" height="21" fill="#000"/>
<rect x="452" y="504" width="1" height="30" fill="#000"/>
<rect x="450" y="522" width="5" height="9" fill="#000"/>
<rect x="451" y="523" width="3" height="7" fill="#fff"/>
<rect x="460" y="510" width="1" height="10" fill="#000"/>
<rect x="458" y="511" width="5" height="8" fill="#000"/>
<rect x="459" y="512" width="3" height="6" fill="#fff"/>
<rect x="468" y="486" width="1" height="40" fill="#000"/>
<rect x="466" y="511" width="5" height="10" fill="#000"/>
<rect x="476" y="496" width="1" height="28" fill="#000"/>
<rect x="474" y="509" width="5" height="11" fill="#000"/>
<rect x="475" y="510" width="3" height="9" fill="#fff"/>
<rect x="484" y="501" width="1" height="18" fill="#000"/>
<rect x="482" y="509" width="5" height="1" fill="#000"/>
<rect x="492" y="493" width="1" height="22" fill="#000"/>
<rect x="490" y="509" width="5" height="1" fill="#000"/>
<rect x="500" y="504" width="1" height="7" fill="#000"/>
<rect x="498" y="508" width="5" height="1" fill="#000"/>
<rect x="508" y="485" width="1" height="32" fill="#000"/>
<rect x="506" y="498" width="5" height="11" fill="#000"/>
<rect x="507" y="499" width="3" height="9" fill="#fff"/>
<rect x="516" y="491" width="1" height="22" fill="#000"/>
<rect x="514" y="498" width="5" height="10" fill="#000"/>
<rect x="524" y="505" width="1" height="39" fill="#000"/>
<rect x="522" y="506" width="5" height="28" fill="#000"/>
<rect x="532" y="521" width="1" height="21" fill="#000"/>
<rect x="530" y="527" width="5" height="6" fill="#000"/>
<rect x="531" y="528" width="3" height="4" fill="#fff"/>
<rect x="540" y="521" width="1" height="9" fill="#000"/>
<rect x="538" y="526" width="5" height="3" fill="#000"/>
<rect x="539" y="527" width="3" height="1" fill="#fff"/>
<rect x="548" y="524" width="1" height="35" fill="#000"/>
<rect x="546" y="525" width="5" height="8" fill="#000"/>
<rect x="556" y="529" width="1" height="37" fill="#000"/>
<rect x="554" y="532" width="5" height="29" fill="#000"/>
<rect x="564" y="513" width="1" height="53" fill="#000"/>
<rect x="562" y="540" width="5" height="20" fill="#000"/>
<rect x="563" y="541" width="3" height="18" fill="#fff"/>
<rect x="572" y="482" width="1" height="62" fill="#000"/>
<rect x="570" y="491" width="5" height="49" fill="#000"/>
<rect x="571" y="492" width="3" height="47" fill="#fff"/>
<rect x="580" y="474" width="1" height="30" fill="#000"/>
<rect x="578" y="485" width="5" height="6" fill="#000"/>
<rect x="579" y="486" width="3" height="4" fill="#fff"/>
<rect x="588" y="473" width="1" height="14" fill="#000"/>
<rect x="586" y="474" width="5" height="12" fill="#000"/>
<rect x="587" y="475" width="3" height="10" fill="#fff"/>
<rect x="596" y="455" width="1" height="23" fill="#000"/>
<rect x="594" y="471" width="5" height="3" fill="#000"/>
<rect x="595" y="472" width="3" height="1" fill="#fff"/>
<rect x="604" y="459" width="1" height="38" fill="#000"/>
<rect x="602" y="471" width="5" height="25" fill="#000"/>
<rect x="612" y="480" width="1" height="29" fill="#000"/>
<rect x="610" y="490" width="5" height="5" fill="#000"/>
<rect x="611" y="491" width="3" height="3" fill="#fff"/>
<rect x="620" y="467" width="1" height="40" fill="#000"/>
<rect x="618" y="489" width="5" height="1" fill="#000"/>
<rect x="628" y="486" width="1" height="18" fill="#000"/>
<rect x="626" y="488" width="5" height="2" fill="#000"/>
<rect x="636" y="484" width="1" height="7" fill="#000"/>
<rect x="634" y="485" width="5" height="5" fill="#000"/>
<rect x="635" y="486" width="3" height="3" fill="#fff"/>
<rect x="644" y="483" width="1" height="19" fill="#000"/>
<rect x="642" y="485" width="5" height="13" fill="#000"/>
<rect x="652" y="474" width="1" height="28" fill="#000"/>
<rect x="650" y="485" width="5" height="12" fill="#000"/>
<rect x="651" y="486" width="3" height="10" fill="#fff"/>
<rect x="660" y="484" width="1" height="30" fill="#000"/>
<rect x="658" y="485" width="5" height="21" fill="#000"/>
<rect x="668" y="500" width="1" height="21" fill="#000"/>
<rect x="666" y="507" width="5" height="3" fill="#000"/>
<rect x="676" y="486" width="1" height="24" fill="#000"/>
<rect x="674" y="489" width="5" height="20" fill="#000"/>
<rect x="675" y="490" width="3" height="18" fill="#fff"/>
<rect x="684" y="490" width="1" height="4" fill="#000"/>
<rect x="682" y="491" width="5" height="2" fill="#000"/>
<rect x="692" y="483" width="1" height="17" fill="#000"/>
<rect x="690" y="492" width="5" height="3" fill="#000"/>
<rect x="700" y="490" width="1" height="17" fill="#000"/>
<rect x="698" y="494" width="5" height="11" fill="#000"/>
<rect x="708" y="467" width="1" height="38" fill="#000"/>
<rect x="706" y="471" width="5" height="34" fill="#000"/>
<rect x="707" y="472" width="3" height="32" fill="#fff"/>
<rect x="716" y="451" width="1" height="21" fill="#000"/>
<rect x="714" y="461" width="5" height="10" fill="#000"/>
<rect x="715" y="462" width="3" height="8" fill="#fff"/>
<rect x="724" y="422" width="1" height="41" fill="#000"/>
<rect x="722" y="434" width="5" height="27" fill="#000"/>
<rect x="723" y="435" width="3" height="25" fill="#fff"/>
<rect x="732" y="431" width="1" height="7" fill="#000"/>
<rect x="730" y="431" width="5" height="4" fill="#000"/>
<rect x="740" y="416" width="1" height="27" fill="#000"/>
<rect x="738" y="425" width="5" height="11" fill="#000"/>
<rect x="739" y="426" width="3" height="9" fill="#fff"/>
<rect x="748" y="408" width="1" height="22" fill="#000"/>
<rect x="746" y="416" width="5" height="9" fill="#000"/>
<rect x="747" y="417" width="3" height="7" fill="#fff"/>
<rect x="756" y="412" width="1" height="12" fill="#000"/>
<rect x="754" y="417" width="5" height="2" fill="#000"/>
<rect x="764" y="381" width="1" height="40" fill="#000"/>
<rect x="762" y="383" width="5" height="35" fill="#000"/>
<rect x="763" y="384" width="3" height="33" fill="#fff"/>
<rect x="772" y="371" width="1" height="28" fill="#000"/>
<rect x="770" y="383" width="5" height="9" fill="#000"/>
<rect x="780" y="391" width="1" height="6" fill="#000"/>
<rect x="778" y="394" width="5" height="2" fill="#000"/>
<rect x="788" y="377" width="1" height="33" fill="#000"/>
<rect x="786" y="394" width="5" height="12" fill="#000"/>
<rect x="796" y="404" width="1" height="46" fill="#000"/>
<rect x="794" y="405" width="5" height="40" fill="#000"/>
<rect x="804" y="428" width="1" height="27" fill="#000"/>
<rect x="802" y="441" width="5" height="4" fill="#000"/>
<rect x="803" y="442" width="3" height="2" fill="#fff"/>
<rect x="812" y="430" width="1" height="17" fill="#000"/>
<rect x="810" y="433" width="5" height="9" fill="#000"/>
<rect x="811" y="434" width="3" height="7" fill="#fff"/>
<rect x="820" y="407" width="1" height="27" fill="#000"/>
<rect x="818" y="420" width="5" height="14" fill="#000"/>
<rect x="819" y="421" width="3" height="12" fill="#fff"/>
<rect x="828" y="413" width="1" height="10" fill="#000"/>
<rect x="826" y="414" width="5" height="8" fill="#000"/>
<rect x="827" y="415" width="3" height="6" fill="#fff"/>
<rect x="836" y="393" width="1" height="27" fill="#000"/>
<rect x="834" y="395" width="5" height="19" fill="#000"/>
<rect x="835" y="396" width="3" height="17" fill="#fff"/>
<rect x="844" y="343" width="1" height="65" fill="#000"/>
<rect x="842" y="350" width="5" height="45" fill="#000"/>
<rect x="843" y="351" width="3" height="43" fill="#fff"/>
<rect x="852" y="344" width="1" height="27" fill="#000"/>
<rect x="850" y="350" width="5" height="17" fill="#000"/>
<rect x="860" y="362" width="1" height="21" fill="#000"/>
<rect x="858" y="366" width="5" height="13" fill="#000"/>
<rect x="868" y="373" width="1" height="31" fill="#000"/>
<rect x="866" y="378" width="5" height="11" fill="#000"/>
<rect x="876" y="380" width="1" height="9" fill="#000"/>
<rect x="874" y="385" width="5" height="3" fill="#000"/>
<rect x="875" y="386" width="3" height="1" fill="#fff"/>
<rect x="884" y="366" width="1" height="58" fill="#000"/>
<rect x="882" y="385" width="5" height="34" fill="#000"/>
<rect x="892" y="392" width="1" height="32" fill="#000"/>
<rect x="890" y="400" width="5" height="19" fill="#000"/>
<rect x="891" y="401" width="3" height="17" fill="#fff"/>
<rect x="900" y="351" width="1" height="51" fill="#000"/>
<rect x="898" y="360" width="5" height="41" fill="#000"/>
<rect x="899" y="361" width="3" height="39" fill="#fff"/>
<rect x="908" y="332" width="1" height="34" fill="#000"/>
<rect x="906" y="333" width="5" height="26" fill="#000"/>
<rect x="907" y="334" width="3" height="24" fill="#fff"/>
<rect x="916" y="314" width="1" height="52" fill="#000"/>
<rect x="914" y="319" width="5" height="15" fill="#000"/>
<rect x="915" y="320" width="3" height="13" fill="#fff"/>
<rect x="924" y="321" width="1" height="7" fill="#000"/>
<rect x="922" y="325" width="5" height="2" fill="#000"/>
<rect x="932" y="303" width="1" height="33" fill="#000"/>
<rect x="930" y="305" width="5" height="23" fill="#000"/>
<rect x="931" y="306" width="3" height="21" fill="#fff"/>
<rect x="940" y="298" width="1" height="18" fill="#000"/>
<rect x="938" y="305" width="5" height="5" fill="#000"/>
<rect x="948" y="286" width="1" height="29" fill="#000"/>
<rect x="946" y="292" width="5" height="19" fill="#000"/>
<rect x="947" y="293" width="3" height="17" fill="#fff"/>
<rect x="956" y="234" width="1" height="64" fill="#000"/>
<rect x="954" y="238" width="5" height="55" fill="#000"/>
<rect x="955" y="239" width="3" height="53" fill="#fff"/>
<rect x="964" y="195" width="1" height="52" fill="#000"/>
<rect x="962" y="214" width="5" height="24" fill="#000"/>
<rect x="963" y="215" width="3" height="22" fill="#fff"/>
<rect x="972" y="206" width="1" height="8" fill="#000"/>
<rect x="970" y="210" width="5" height="4" fill="#000"/>
<rect x="971" y="211" width="3" height="2" fill="#fff"/>
<rect x="980" y="176" width="1" height="41" fill="#000"/>
<rect x="978" y="178" width="5" height="32" fill="#000"/>
<rect x="979" y="179" width="3" height="30" fill="#fff"/>
<rect x="988" y="159" width="1" height="51" fill="#000"/>
<rect x="986" y="178" width="5" height="22" fill="#000"/>
<rect x="996" y="178" width="1" height="37" fill="#000"/>
<rect x="994" y="199" width="5" height="9" fill="#000"/>
<rect x="1004" y="185" width="1" height="29" fill="#000"/>
<rect x="1002" y="200" width="5" height="8" fill="#000"/>
<rect x="1003" y="201" width="3" height="6" fill="#fff"/>
<rect x="1012" y="163" width="1" height="41" fill="#000"/>
<rect x="1010" y="169" width="5" height="32" fill="#000"/>
<rect x="1011" y="170" width="3" height="30" fill="#fff"/>
<rect x="1020" y="165" width="1" height="5" fill="#000"/>
<rect x="1018" y="166" width="5" height="3" fill="#000"/>
<rect x="1019" y="167" width="3" height="1" fill="#fff"/>
<rect x="1028" y="151" width="1" height="29" fill="#000"/>
<rect x="1026" y="166" width="5" height="1" fill="#000"/>
<rect x="1036" y="156" width="1" height="32" fill="#000"/>
<rect x="1034" y="166" width="5" height="7" fill="#000"/>
<rect x="1044" y="154" width="1" height="39" fill="#000"/>
<rect x="1042" y="172" width="5" height="9" fill="#000"/>
<rect x="1052" y="155" width="1" height="42" fill="#000"/>
<rect x="1050" y="179" width="5" height="2" fill="#000"/>
<rect x="1060" y="166" width="1" height="32" fill="#000"/>
<rect x="1058" y="177" width="5" height="4" fill="#000"/>
<rect x="1068" y="179" width="1" height="4" fill="#000"/>
<rect x="1066" y="180" width="5" height="2" fill="#000"/>
<rect x="1076" y="176" width="1" height="22" fill="#000"/>
<rect x="1074" y="181" width="5" height="7" fill="#000"/>
<rect x="1084" y="181" width="1" height="29" fill="#000"/>
<rect x="1082" y="187" width="5" height="17" fill="#000"/>
<rect x="1092" y="176" width="1" height="32" fill="#000"/>
<rect x="1090" y="186" width="5" height="17" fill="#000"/>
<rect x="1091" y="187" width="3" height="15" fill="#fff"/>
<rect x="1100" y="159" width="1" height="27" fill="#000"/>
<rect x="1098" y="163" width="5" height="23" fill="#000"/>
<rect x="1099" y="164" width="3" height="21" fill="#fff"/>
<rect x="1108" y="122" width="1" height="44" fill="#000"/>
<rect x="1106" y="132" width="5" height="32" fill="#000"/>
<rect x="1107" y="133" width="3" height="30" fill="#fff"/>
<rect x="1116" y="124" width="1" height="5" fill="#000"/>
<rect x="1114" y="125" width="5" height="3" fill="#000"/>
<rect x="1115" y="126" width="3" height="1" fill="#fff"/>
<rect x="1124" y="119" width="1" height="33" fill="#000"/>
<rect x="1122" y="122" width="5" height="3" fill="#000"/>
<rect x="1123" y="123" width="3" height="1" fill="#fff"/>
<rect x="1132" y="86" width="1" height="40" fill="#000"/>
<rect x="1130" y="94" width="5" height="29" fill="#000"/>
<rect x="1131" y="95" width="3" height="27" fill="#fff"/>
<rect x="1140" y="53" width="1" height="44" fill="#000"/>
<rect x="1138" y="66" width="5" height="28" fill="#000"/>
<rect x="1139" y="67" width="3" height="26" fill="#fff"/>
<rect x="1148" y="61" width="1" height="18" fill="#000"/>
<rect x="1146" y="66" width="5" height="10" fill="#000"/>
<rect x="1156" y="65" width="1" height="8" fill="#000"/>
<rect x="1154" y="68" width="5" height="4" fill="#000"/>
<rect x="1164" y="68" width="1" height="48" fill="#000"/>
<rect x="1162" y="70" width="5" height="31" fill="#000"/>
<rect x="1172" y="79" width="1" height="55" fill="#000"/>
<rect x="1170" y="100" width="5" height="26" fill="#000"/>
<rect x="1180" y="116" width="1" height="23" fill="#000"/>
<rect x="1178" y="121" width="5" height="5" fill="#000"/>
<rect x="1179" y="122" width="3" height="3" fill="#fff"/>
<rect x="1188" y="118" width="1" height="57" fill="#000"/>
<rect x="1186" y="121" width="5" height="33" fill="#000"/>
<rect x="1196" y="115" width="1" height="46" fill="#000"/>
<rect x="1194" y="133" width="5" height="20" fill="#000"/>
<rect x="1195" y="134" width="3" height="18" fill="#fff"/>
<rect x="1204" y="127" width="1" height="5" fill="#000"/>
<rect x="1202" y="127" width="5" height="3" fill="#000"/>
<rect x="1212" y="126" width="1" height="33" fill="#000"/>
<rect x="1210" y="129" width="5" height="22" fill="#000"/>
<rect x="1220" y="127" width="1" height="54" fill="#000"/>
<rect x="1218" y="150" width="5" height="30" fill="#000"/>
<rect x="1228" y="168" width="1" height="21" fill="#000"/>
<rect x="1226" y="179" width="5" height="2" fill="#000"/>
<rect x="1236" y="176" width="1" height="21" fill="#000"/>
<rect x="1234" y="180" width="5" height="13" fill="#000"/>
<rect x="1244" y="176" width="1" height="21" fill="#000"/>
<rect x="1242" y="186" width="5" height="7" fill="#000"/>
<rect x="1243" y="187" width="3" height="5" fill="#fff"/>
<rect x="1252" y="187" width="1" height="7" fill="#000"/>
<rect x="1250" y="188" width="5" height="3" fill="#000"/>
<rect x="1260" y="188" width="1" height="47" fill="#000"/>
<rect x="1258" y="190" width="5" height="39" fill="#000"/>
<rect x="1268" y="201" width="1" height="36" fill="#000"/>
<rect x="1266" y="226" width="5" height="3" fill="#000"/>
<rect x="1267" y="227" width="3" height="1" fill="#fff"/>
<rect x="1276" y="217" width="1" height="25" fill="#000"/>
<rect x="1274" y="227" width="5" height="5" fill="#000"/>
<rect x="1284" y="220" width="1" height="27" fill="#000"/>
<rect x="1282" y="232" width="5" height="4" fill="#000"/>
<rect x="1292" y="226" width="1" height="41" fill="#000"/>
<rect x="1290" y="235" width="5" height="5" fill="#000"/>
<rect x="1300" y="241" width="1" height="2" fill="#000"/>
<rect x="1298" y="241" width="5" height="2" fill="#000"/>
<rect x="1308" y="222" width="1" height="35" fill="#000"/>
<rect x="1306" y="222" width="5" height="19" fill="#000"/>
<rect x="1307" y="223" width="3" height="17" fill="#fff"/>
<rect x="1316" y="187" width="1" height="42" fill="#000"/>
<rect x="1314" y="189" width="5" height="40" fill="#000"/>
<rect x="1315" y="190" width="3" height="38" fill="#fff"/>
<rect x="1324" y="169" width="1" height="35" fill="#000"/>
<rect x="1322" y="189" width="5" height="15" fill="#000"/>
<rect x="1332" y="160" width="1" height="49" fill="#000"/>
<rect x="1330" y="180" width="5" height="24" fill="#000"/>
<rect x="1331" y="181" width="3" height="22" fill="#fff"/>
<rect x="1340" y="153" width="1" height="39" fill="#000"/>
<rect x="1338" y="155" width="5" height="25" fill="#000"/>
<rect x="1339" y="156" width="3" height="23" fill="#fff"/>
<rect x="1348" y="152" width="1" height="8" fill="#000"/>
<rect x="1346" y="154" width="5" height="3" fill="#000"/>
<rect x="1356" y="142" width="1" height="38" fill="#000"/>
<rect x="1354" y="156" width="5" height="13" fill="#000"/>
<rect x="1364" y="144" width="1" height="27" fill="#000"/>
<rect x="1362" y="154" width="5" height="14" fill="#000"/>
<rect x="1363" y="155" width="3" height="12" fill="#fff"/>
<rect x="1372" y="144" width="1" height="22" fill="#000"/>
<rect x="1370" y="154" width="5" height="7" fill="#000"/>
<rect x="1380" y="150" width="1" height="23" fill="#000"/>
<rect x="1378" y="160" width="5" height="10" fill="#000"/>
<rect x="1388" y="156" width="1" height="59" fill="#000"/>
<rect x="1386" y="170" width="5" height="28" fill="#000"/>
<rect x="1396" y="199" width="1" height="7" fill="#000"/>
<rect x="1394" y="200" width="5" height="2" fill="#000"/>
<rect x="1404" y="170" width="1" height="31" fill="#000"/>
<rect x="1402" y="183" width="5" height="17" fill="#000"/>
<rect x="1403" y="184" width="3" height="15" fill="#fff"/>
<rect x="1412" y="175" width="1" height="30" fill="#000"/>
<rect x="1410" y="183" width="5" height="9" fill="#000"/>
<rect x="1420" y="130" width="1" height="63" fill="#000"/>
<rect x="1418" y="136" width="5" height="56" fill="#000"/>
<rect x="1419" y="137" width="3" height="54" fill="#fff"/>
<rect x="4" y="695" width="1" height="5" fill="#c0c0c0"/>
<rect x="12" y="695" width="1" height="5" fill="#c0c0c0"/>
<rect x="20" y="695" width="1" height="6" fill="#c0c0c0"/>
<rect x="28" y="695" width="1" height="6" fill="#c0c0c0"/>
<rect x="36" y="695" width="1" height="5" fill="#c0c0c0"/>
<rect x="44" y="695" width="1" height="5" fill="#c0c0c0"/>
<rect x="52" y="695" width="1" height="11" fill="#c0c0c0"/>
<rect x="60" y="695" width="1" height="14" fill="#c0c0c0"/>
<rect x="68" y="695" width="1" height="17" fill="#c0c0c0"/>
<rect x="76" y="695" width="1" height="20" fill="#c0c0c0"/>
<rect x="84" y="695" width="1" height="21" fill="#c0c0c0"/>
<rect x="92" y="695" width="1" height="24" fill="#c0c0c0"/>
<rect x="100" y="695" width="1" height="28" fill="#c0c0c0"/>
<rect x="108" y="695" width="1" height="28" fill="#c0c0c0"/>
<rect x="116" y="695" width="1" height="27" fill="#c0c0c0"/>
<rect x="124" y="695" width="1" height="27" fill="#c0c0c0"/>
<rect x="132" y="695" width="1" height="26" fill="#c0c0c0"/>
<rect x="140" y="695" width="1" height="26" fill="#c0c0c0"/>
<rect x="148" y="695" width="1" height="26" fill="#c0c0c0"/>
<rect x="156" y="695" width="1" height="33" fill="#c0c0c0"/>
<rect x="164" y="695" width="1" height="42" fill="#c0c0c0"/>
<rect x="172" y="695" width="1" height="47" fill="#c0c0c0"/>
<rect x="180" y="695" width="1" height="36" fill="#c0c0c0"/>
<rect x="188" y="695" width="1" height="25" fill="#c0c0c0"/>
<rect x="196" y="695" width="1" height="15" fill="#c0c0c0"/>
<rect x="204" y="695" width="1" height="10" fill="#c0c0c0"/>
<rect x="212" y="695" width="1" height="10" fill="#c0c0c0"/>
<rect x="220" y="695" width="1" height="9" fill="#c0c0c0"/>
<rect x="228" y="695" width="1" height="10" fill="#c0c0c0"/>
<rect x="236" y="695" width="1" height="13" fill="#c0c0c0"/>
<rect x="244" y="695" width="1" height="18" fill="#c0c0c0"/>
<rect x="252" y="695" width="1" height="22" fill="#c0c0c0"/>
<rect x="260" y="695" width="1" height="25" fill="#c0c0c0"/>
<rect x="268" y="695" width="1" height="27" fill="#c0c0c0"/>
<rect x="276" y="695" width="1" height="22" fill="#c0c0c0"/>
<rect x="284" y="695" width="1" height="18" fill="#c0c0c0"/>
<rect x="292" y="695" width="1" height="16" fill="#c0c0c0"/>
<rect x="300" y="695" width="1" height="16" fill="#c0c0c0"/>
<rect x="308" y="695" width="1" height="17" fill="#c0c0c0"/>
<rect x="316" y="695" width="1" height="17" fill="#c0c0c0"/>
<rect x="324" y="695" width="1" height="15" fill="#c0c0c0"/>
<rect x="332" y="695" width="1" height="13" fill="#c0c0c0"/>
<rect x="340" y="695" width="1" height="11" fill="#c0c0c0"/>
<rect x="348" y="695" width="1" height="14" fill="#c0c0c0"/>
<rect x="356" y="695" width="1" height="14" fill="#c0c0c0"/>
<rect x="364" y="695" width="1" height="13" fill="#c0c0c0"/>
<rect x="372" y="695" width="1" height="13" fill="#c0c0c0"/>
<rect x="380" y="695" width="1" height="13" fill="#c0c0c0"/>
<rect x="388" y="695" width="1" height="11" fill="#c0c0c0"/>
<rect x="396" y="695" width="1" height="10" fill="#c0c0c0"/>
<rect x="404" y="695" width="1" height="11" fill="#c0c0c0"/>
<rect x="412" y="695" width="1" height="11" fill="#c0c0c0"/>
<rect x="420" y="695" width="1" height="11" fill="#c0c0c0"/>
<rect x="428" y="695" width="1" height="14" fill="#c0c0c0"/>
<rect x="436" y="695" width="1" height="18" fill="#c0c0c0"/>
<rect x="444" y="695" width="1" height="23" fill="#c0c0c0"/>
<rect x="452" y="695" width="1" height="26" fill="#c0c0c0"/>
<rect x="460" y="695" width="1" height="26" fill="#c0c0c0"/>
<rect x="468" y="695" width="1" height="27" fill="#c0c0c0"/>
<rect x="476" y="695" width="1" height="26" fill="#c0c0c0"/>
<rect x="484" y="695" width="1" height="25" fill="#c0c0c0"/>
<rect x="492" y="695" width="1" height="24" fill="#c0c0c0"/>
<rect x="500" y="695" width="1" height="23" fill="#c0c0c0"/>
<rect x="508" y="695" width="1" height="20" fill="#c0c0c0"/>
<rect x="516" y="695" width="1" height="19" fill="#c0c0c0"/>
<rect x="524" y="695" width="1" height="22" fill="#c0c0c0"/>
<rect x="532" y="695" width="1" height="23" fill="#c0c0c0"/>
<rect x="540" y="695" width="1" height="23" fill="#c0c0c0"/>
<rect x="548" y="695" width="1" height="24" fill="#c0c0c0"/>
<rect x="556" y="695" width="1" height="28" fill="#c0c0c0"/>
<rect x="564" y="695" width="1" height="28" fill="#c0c0c0"/>
<rect x="572" y="695" width="1" height="21" fill="#c0c0c0"/>
<rect x="580" y="695" width="1" height="15" fill="#c0c0c0"/>
<rect x="588" y="695" width="1" height="8" fill="#c0c0c0"/>
<rect x="596" y="695" width="1" height="2" fill="#c0c0c0"/>
<rect x="604" y="695" width="1" height="1" fill="#c0c0c0"/>
<rect x="612" y="695" width="1" height="1" fill="#c0c0c0"/>
<rect x="620" y="693" width="1" height="3" fill="#c0c0c0"/>
<rect x="628" y="692" width="1" height="4" fill="#c0c0c0"/>
<rect x="636" y="691" width="1" height="5" fill="#c0c0c0"/>
<rect x="644" y="691" width="1" height="5" fill="#c0c0c0"/>
<rect x="652" y="690" width="1" height="6" fill="#c0c0c0"/>
<rect x="660" y="692" width="1" height="4" fill="#c0c0c0"/>
<rect x="668" y="694" width="1" height="2" fill="#c0c0c0"/>
<rect x="676" y="693" width="1" height="3" fill="#c0c0c0"/>
<rect x="684" y="693" width="1" height="3" fill="#c0c0c0"/>
<rect x="692" y="693" width="1" height="3" fill="#c0c0c0"/>
<rect x="700" y="694" width="1" height="2" fill="#c0c0c0"/>
<rect x="708" y="691" width="1" height="5" fill="#c0c0c0"/>
<rect x="716" y="687" width="1" height="9" fill="#c0c0c0"/>
<rect x="724" y="680" width="1" height="16" fill="#c0c0c0"/>
<rect x="732" y="675" width="1" height="21" fill="#c0c0c0"/>
<rect x="740" y="670" width="1" height="26" fill="#c0c0c0"/>
<rect x="748" y="665" width="1" height="31" fill="#c0c0c0"/>
<rect x="756" y="662" width="1" height="34" fill="#c0c0c0"/>
<rect x="764" y="655" width="1" height="41" fill="#c0c0c0"/>
<rect x="772" y="651" width="1" height="45" fill="#c0c0c0"/>
<rect x="780" y="649" width="1" height="47" fill="#c0c0c0"/>
<rect x="788" y="650" width="1" height="46" fill="#c0c0c0"/>
<rect x="796" y="656" width="1" height="40" fill="#c0c0c0"/>
<rect x="804" y="661" width="1" height="35" fill="#c0c0c0"/>
<rect x="812" y="664" width="1" height="32" fill="#c0c0c0"/>
<rect x="820" y="665" width="1" height="31" fill="#c0c0c0"/>
<rect x="828" y="665" width="1" height="31" fill="#c0c0c0"/>
<rect x="836" y="663" width="1" height="33" fill="#c0c0c0"/>
<rect x="844" y="656" width="1" height="40" fill="#c0c0c0"/>
<rect x="852" y="653" width="1" height="43" fill="#c0c0c0"/>
<rect x="860" y="652" width="1" height="44" fill="#c0c0c0"/>
<rect x="868" y="654" width="1" height="42" fill="#c0c0c0"/>
<rect x="876" y="655" width="1" height="41" fill="#c0c0c0"/>
<rect x="884" y="661" width="1" height="35" fill="#c0c0c0"/>
<rect x="892" y="664" width="1" height="32" fill="#c0c0c0"/>
<rect x="900" y="661" width="1" height="35" fill="#c0c0c0"/>
<rect x="908" y="655" width="1" height="41" fill="#c0c0c0"/>
<rect x="916" y="649" width="1" height="47" fill="#c0c0c0"/>
<rect x="924" y="646" width="1" height="50" fill="#c0c0c0"/>
<rect x="932" y="641" width="1" height="55" fill="#c0c0c0"/>
<rect x="940" y="639" width="1" height="57" fill="#c0c0c0"/>
<rect x="948" y="635" width="1" height="61" fill="#c0c0c0"/>
<rect x="956" y="626" width="1" height="70" fill="#c0c0c0"/>
<rect x="964" y="616" width="1" height="80" fill="#c0c0c0"/>
<rect x="972" y="608" width="1" height="88" fill="#c0c0c0"/>
<rect x="980" y="599" width="1" height="97" fill="#c0c0c0"/>
<rect x="988" y="596" width="1" height="100" fill="#c0c0c0"/>
<rect x="996" y="596" width="1" height="100" fill="#c0c0c0"/>
<rect x="1004" y="596" width="1" height="100" fill="#c0c0c0"/>
<rect x="1012" y="592" width="1" height="104" fill="#c0c0c0"/>
<rect x="1020" y="591" width="1" height="105" fill="#c0c0c0"/>
<rect x="1028" y="591" width="1" height="105" fill="#c0c0c0"/>
<rect x="1036" y="593" width="1" height="103" fill="#c0c0c0"/>
<rect x="1044" y="596" width="1" height="100" fill="#c0c0c0"/>
<rect x="1052" y="600" width="1" height="96" fill="#c0c0c0"/>
<rect x="1060" y="605" width="1" height="91" fill="#c0c0c0"/>
<rect x="1068" y="609" width="1" height="87" fill="#c0c0c0"/>
<rect x="1076" y="615" width="1" height="81" fill="#c0c0c0"/>
<rect x="1084" y="622" width="1" height="74" fill="#c0c0c0"/>
<rect x="1092" y="626" width="1" height="70" fill="#c0c0c0"/>
<rect x="1100" y="627" width="1" height="69" fill="#c0c0c0"/>
<rect x="1108" y="624" width="1" height="72" fill="#c0c0c0"/>
<rect x="1116" y="622" width="1" height="74" fill="#c0c0c0"/>
<rect x="1124" y="621" width="1" height="75" fill="#c0c0c0"/>
<rect x="1132" y="617" width="1" height="79" fill="#c0c0c0"/>
<rect x="1140" y="611" width="1" height="85" fill="#c0c0c0"/>
<rect x="1148" y="608" width="1" height="88" fill="#c0c0c0"/>
<rect x="1156" y="607" width="1" height="89" fill="#c0c0c0"/>
<rect x="1164" y="610" width="1" height="86" fill="#c0c0c0"/>
<rect x="1172" y="618" width="1" height="78" fill="#c0c0c0"/>
<rect x="1180" y="624" width="1" height="72" fill="#c0c0c0"/>
<rect x="1188" y="634" width="1" height="62" fill="#c0c0c0"/>
<rect x="1196" y="639" width="1" height="57" fill="#c0c0c0"/>
<rect x="1204" y="644" width="1" height="52" fill="#c0c0c0"/>
<rect x="1212" y="651" width="1" height="45" fill="#c0c0c0"/>
<rect x="1220" y="661" width="1" height="35" fill="#c0c0c0"/>
<rect x="1228" y="669" width="1" height="27" fill="#c0c0c0"/>
<rect x="1236" y="678" width="1" height="18" fill="#c0c0c0"/>
<rect x="1244" y="684" width="1" height="12" fill="#c0c0c0"/>
<rect x="1252" y="689" width="1" height="7" fill="#c0c0c0"/>
<rect x="1260" y="695" width="1" height="3" fill="#c0c0c0"/>
<rect x="1268" y="695" width="1" height="10" fill="#c0c0c0"/>
<rect x="1276" y="695" width="1" height="17" fill="#c0c0c0"/>
<rect x="1284" y="695" width="1" height="22" fill="#c0c0c0"/>
<rect x="1292" y="695" width="1" height="26" fill="#c0c0c0"/>
<rect x="1300" y="695" width="1" height="29" fill="#c0c0c0"/>
<rect x="1308" y="695" width="1" height="29" fill="#c0c0c0"/>
<rect x="1316" y="695" width="1" height="24" fill="#c0c0c0"/>
<rect x="1324" y="695" width="1" height="22" fill="#c0c0c0"/>
<rect x="1332" y="695" width="1" height="16" fill="#c0c0c0"/>
<rect x="1340" y="695" width="1" height="9" fill="#c0c0c0"/>
<rect x="1348" y="695" width="1" height="3" fill="#c0c0c0"/>
<rect x="1356" y="695" width="1" height="1" fill="#c0c0c0"/>
<rect x="1364" y="691" width="1" height="5" fill="#c0c0c0"/>
<rect x="1372" y="688" width="1" height="8" fill="#c0c0c0"/>
<rect x="1380" y="688" width="1" height="8" fill="#c0c0c0"/>
<rect x="1388" y="691" width="1" height="5" fill="#c0c0c0"/>
<rect x="1396" y="694" width="1" height="2" fill="#c0c0c0"/>
<rect x="1404" y="694" width="1" height="2" fill="#c0c0c0"/>
<rect x="1412" y="695" width="1" height="1" fill="#c0c0c0"/>
<rect x="1420" y="689" width="1" height="7" fill="#c0c0c0"/>
<polyline points="4.5,697.0 12.5,697.0 20.5,697.0 28.5,697.9 36.5,699.0 44.5,699.0 52.5,700.8 60.5,702.0 68.5,703.7 76.5,705.4 84.5,707.2 92.5,709.2 100.5,711.6 108.5,714.2 116.5,716.7 124.5,718.5 132.5,719.8 140.5,720.8 148.5,721.4 156.5,722.8 164.5,724.8 172.5,727.0 180.5,727.8 188.5,727.5 196.5,726.2 204.5,724.5 212.5,722.7 220.5,720.8 228.5,718.1 236.5,714.9 244.5,711.6 252.5,710.1 260.5,710.0 268.5,711.3 276.5,712.6 284.5,713.6 292.5,714.4 300.5,715.1 308.5,715.5 316.5,715.4 324.5,714.7 332.5,713.4 340.5,711.7 348.5,710.7 356.5,710.2 364.5,709.8 372.5,709.6 380.5,709.1 388.5,708.4 396.5,707.8 404.5,707.5 412.5,707.6 420.5,707.3 428.5,707.4 436.5,708.0 444.5,709.1 452.5,710.6 460.5,712.3 468.5,714.3 476.5,716.0 484.5,717.5 492.5,719.0 500.5,719.9 508.5,720.1 516.5,719.7 524.5,719.2 532.5,718.9 540.5,718.4 548.5,718.1 556.5,718.4 564.5,718.8 572.5,718.7 580.5,718.1 588.5,716.8 596.5,714.7 604.5,712.3 612.5,709.7 620.5,706.8 628.5,703.4 636.5,699.8 644.5,697.0 652.5,694.8 660.5,693.6 668.5,693.2 676.5,692.8 684.5,692.6 692.5,692.6 700.5,692.8 708.5,692.9 716.5,692.3 724.5,691.2 732.5,689.3 740.5,686.6 748.5,683.5 756.5,680.0 764.5,675.8 772.5,671.1 780.5,666.5 788.5,662.4 796.5,659.7 804.5,658.2 812.5,657.5 820.5,657.4 828.5,657.7 836.5,658.6 844.5,659.1 852.5,659.4 860.5,659.7 868.5,659.5 876.5,658.9 884.5,658.6 892.5,658.5 900.5,658.1 908.5,657.2 916.5,656.5 924.5,655.8 932.5,654.6 940.5,652.9 948.5,650.7 956.5,646.7 964.5,641.4 972.5,635.5 980.5,629.3 988.5,623.4 996.5,617.8 1004.5,612.7 1012.5,607.6 1020.5,602.6 1028.5,598.7 1036.5,596.2 1044.5,594.9 1052.5,595.0 1060.5,596.0 1068.5,597.5 1076.5,599.6 1084.5,602.9 1092.5,606.8 1100.5,610.8 1108.5,614.3 1116.5,617.2 1124.5,619.4 1132.5,620.7 1140.5,620.9 1148.5,620.1 1156.5,618.5 1164.5,616.7 1172.5,615.7 1180.5,615.7 1188.5,617.0 1196.5,619.1 1204.5,622.1 1212.5,626.6 1220.5,632.5 1228.5,639.4 1236.5,646.9 1244.5,654.2 1252.5,661.5 1260.5,668.7 1268.5,676.0 1276.5,683.5 1284.5,690.8 1292.5,697.5 1300.5,703.6 1308.5,708.8 1316.5,712.7 1324.5,715.8 1332.5,717.2 1340.5,717.1 1348.5,715.5 1356.5,713.1 1364.5,709.7 1372.5,705.7 1380.5,701.6 1388.5,698.5 1396.5,696.0 1404.5,694.1 1412.5,693.1 1420.5,692.1" fill="none" stroke="#ff0000" stroke-width="1" shape-rendering="crispEdges" stroke-dasharray="3,3"/>
<line x1="2" y1="789.5" x2="1681" y2="789.5" stroke="#b4b4b4" stroke-width="1" stroke-dasharray="3,3" shape-rendering="crispEdges"/>
<line x1="2" y1="840.5" x2="1681" y2="840.5" stroke="#b4b4b4" stroke-width="1" stroke-dasharray="3,3" shape-rendering="crispEdges"/>
<line x1="2" y1="901.5" x2="1681" y2="901.5" stroke="#b4b4b4" stroke-width="1" stroke-dasharray="3,3" shape-rendering="crispEdges"/>
<polyline points="-3.5,844.5 4.5,854.5 12.5,846.2 20.5,845.1 28.5,845.1 36.5,842.5 44.5,843.2 52.5,866.3 60.5,857.3 68.5,862.1 76.5,862.9 84.5,856.2 92.5,864.2 100.5,869.4 108.5,858.8 116.5,853.9 124.5,857.4 132.5,851.8 140.5,856.9 148.5,859.6 156.5,877.0 164.5,882.8 172.5,880.8 180.5,832.0 188.5,829.8 196.5,827.3 204.5,834.6 212.5,844.1 220.5,842.8 228.5,846.0 236.5,852.6 244.5,857.7 252.5,859.1 260.5,858.7 268.5,858.8 276.5,839.8 284.5,840.2 292.5,843.4 300.5,846.9 308.5,851.9 316.5,850.4 324.5,843.7 332.5,843.7 340.5,839.2 348.5,855.5 356.5,847.2 364.5,845.4 372.5,850.0 380.5,845.5 388.5,841.1 396.5,844.4 404.5,849.6 412.5,850.0 420.5,848.8 428.5,859.6 436.5,863.6 444.5,870.9 452.5,864.1 460.5,857.1 468.5,861.2 476.5,853.6 484.5,853.6 492.5,853.6 500.5,852.9 508.5,845.7 516.5,851.7 524.5,864.5 532.5,859.3 540.5,858.6 548.5,862.1 556.5,873.8 564.5,858.6 572.5,833.5 580.5,831.1 588.5,826.7 596.5,825.5 604.5,838.7 612.5,836.0 620.5,835.5 628.5,835.5 636.5,833.4 644.5,841.3 652.5,834.1 660.5,845.8 668.5,847.8 676.5,836.3 684.5,838.6 692.5,839.7 700.5,845.5 708.5,827.8 716.5,823.6 724.5,813.7 732.5,814.3 740.5,810.9 748.5,807.9 756.5,809.4 764.5,799.0 772.5,805.5 780.5,808.4 788.5,815.4 796.5,837.8 804.5,836.0 812.5,832.4 820.5,826.8 828.5,824.3 836.5,817.0 844.5,803.9 852.5,813.7 860.5,820.1 868.5,825.3 876.5,823.9 884.5,840.2 892.5,832.8 900.5,820.0 908.5,813.1 916.5,809.9 924.5,813.8 932.5,808.5 940.5,811.1 948.5,806.8 956.5,796.5 964.5,792.9 972.5,792.4 980.5,788.0 988.5,799.1 996.5,803.0 1004.5,801.5 1012.5,796.1 1020.5,795.6 1028.5,795.6 1036.5,799.7 1044.5,804.5 1052.5,804.2 1060.5,804.9 1068.5,804.9 1076.5,809.9 1084.5,820.8 1092.5,814.2 1100.5,807.0 1108.5,799.2 1116.5,797.7 1124.5,797.0 1132.5,791.2 1140.5,786.6 1148.5,793.3 1156.5,792.5 1164.5,810.7 1172.5,823.7 1180.5,822.1 1188.5,837.0 1196.5,829.7 1204.5,828.7 1212.5,837.8 1220.5,848.6 1228.5,848.6 1236.5,853.2 1244.5,849.9 1252.5,851.9 1260.5,864.5 1268.5,863.0 1276.5,864.9 1284.5,866.1 1292.5,867.5 1300.5,868.2 1308.5,855.5 1316.5,839.0 1324.5,845.5 1332.5,835.2 1340.5,826.1 1348.5,827.1 1356.5,833.0 1364.5,827.3 1372.5,830.8 1380.5,835.3 1388.5,847.8 1396.5,849.4 1404.5,840.4 1412.5,844.4 1420.5,823.4" fill="none" stroke="#1e90ff" stroke-width="1" shape-rendering="crispEdges" />
<rect x="0" y="26" width="1684" height="1" fill="#000"/>
<rect x="1683" y="26" width="1" height="902" fill="#000"/>
<rect x="0" y="579" width="1684" height="1" fill="#000"/>
<rect x="0" y="581" width="1684" height="1" fill="#000"/>
<rect x="0" y="751" width="1684" height="1" fill="#000"/>
<rect x="0" y="753" width="1684" height="1" fill="#000"/>
<rect x="0" y="927" width="1684" height="1" fill="#000"/>
<rect x="1729" y="24" width="1" height="921" fill="#e0e0e0"/>
<rect x="1684" y="48" width="3" height="1" fill="#000"/>
<text x="1689.5" y="53" font-size="10" fill="#000" text-anchor="start" font-weight="normal" textLength="32" lengthAdjust="spacingAndGlyphs" >111.040</text>
<rect x="1684" y="81" width="3" height="1" fill="#000"/>
<text x="1689.5" y="86" font-size="10" fill="#000" text-anchor="start" font-weight="normal" textLength="32" lengthAdjust="spacingAndGlyphs" >110.500</text>
<rect x="1684" y="114" width="3" height="1" fill="#000"/>
<rect x="1684" y="147" width="3" height="1" fill="#000"/>
<rect x="1684" y="180" width="3" height="1" fill="#000"/>
<rect x="1684" y="213" width="3" height="1" fill="#000"/>
<text x="1689.5" y="218" font-size="10" fill="#000" text-anchor="start" font-weight="normal" textLength="32" lengthAdjust="spacingAndGlyphs" >108.340</text>
<rect x="1684" y="246" width="3" height="1" fill="#000"/>
<text x="1689.5" y="251" font-size="10" fill="#000" text-anchor="start" font-weight="normal" textLength="32" lengthAdjust="spacingAndGlyphs" >107.800</text>
<rect x="1684" y="279" width="3" height="1" fill="#000"/>
<text x="1689.5" y="284" font-size="10" fill="#000" text-anchor="start" font-weight="normal" textLength="32" lengthAdjust="spacingAndGlyphs" >107.260</text>
<rect x="1684" y="312" width="3" height="1" fill="#000"/>
<text x="1689.5" y="317" font-size="10" fill="#000" text-anchor="start" font-weight="normal" textLength="32" lengthAdjust="spacingAndGlyphs" >106.720</text>
<rect x="1684" y="345" width="3" height="1" fill="#000"/>
<text x="1689.5" y="350" font-size="10" fill="#000" text-anchor="start" font-weight="normal" textLength="32" lengthAdjust="spacingAndGlyphs" >106.195</text>
<rect x="1684" y="378" width="3" height="1" fill="#000"/>
<text x="1689.5" y="383" font-size="10" fill="#000" text-anchor="start" font-weight="normal" textLength="32" lengthAdjust="spacingAndGlyphs" >105.655</text>
<rect x="1684" y="411" width="3" height="1" fill="#000"/>
<text x="1689.5" y="416" font-size="10" fill="#000" text-anchor="start" font-weight="normal" textLength="32" lengthAdjust="spacingAndGlyphs" >105.115</text>
<rect x="1684" y="444" width="3" height="1" fill="#000"/>
<text x="1689.5" y="449" font-size="10" fill="#000" text-anchor="start" font-weight="normal" textLength="32" lengthAdjust="spacingAndGlyphs" >104.575</text>
<rect x="1684" y="477" width="3" height="1" fill="#000"/>
<text x="1689.5" y="482" font-size="10" fill="#000" text-anchor="start" font-weight="normal" textLength="32" lengthAdjust="spacingAndGlyphs" >104.035</text>
<rect x="1684" y="510" width="3" height="1" fill="#000"/>
<text x="1689.5" y="515" font-size="10" fill="#000" text-anchor="start" font-weight="normal" textLength="32" lengthAdjust="spacingAndGlyphs" >103.495</text>
<rect x="1684" y="543" width="3" height="1" fill="#000"/>
<text x="1689.5" y="548" font-size="10" fill="#000" text-anchor="start" font-weight="normal" textLength="32" lengthAdjust="spacingAndGlyphs" >102.955</text>
<rect x="1684" y="576" width="3" height="1" fill="#000"/>
<text x="1689.5" y="581" font-size="10" fill="#000" text-anchor="start" font-weight="normal" textLength="32" lengthAdjust="spacingAndGlyphs" >102.415</text>
<rect x="1684" y="583" width="3" height="1" fill="#000"/>
<rect x="1684" y="695" width="3" height="1" fill="#000"/>
<rect x="1684" y="750" width="3" height="1" fill="#000"/>
<text x="1688" y="592" font-size="10" fill="#000" text-anchor="start" font-weight="normal" textLength="27" lengthAdjust="spacingAndGlyphs" >1.0779</text>
<text x="1688" y="700" font-size="10" fill="#000" text-anchor="start" font-weight="normal" textLength="17" lengthAdjust="spacingAndGlyphs" >0.00</text>
<text x="1688" y="748" font-size="10" fill="#000" text-anchor="start" font-weight="normal" textLength="31" lengthAdjust="spacingAndGlyphs" >-0.5289</text>
<rect x="1684" y="755" width="3" height="1" fill="#000"/>
<rect x="1684" y="789" width="3" height="1" fill="#000"/>
<rect x="1684" y="840" width="3" height="1" fill="#000"/>
<rect x="1684" y="901" width="3" height="1" fill="#000"/>
<rect x="1684" y="926" width="3" height="1" fill="#000"/>
<text x="1689" y="764" font-size="10" fill="#000" text-anchor="start" font-weight="normal" textLength="14" lengthAdjust="spacingAndGlyphs" >100</text>
<text x="1689" y="794" font-size="10" fill="#000" text-anchor="start" font-weight="normal" textLength="10" lengthAdjust="spacingAndGlyphs" >80</text>
<text x="1689" y="845" font-size="10" fill="#000" text-anchor="start" font-weight="normal" textLength="10" lengthAdjust="spacingAndGlyphs" >50</text>
<text x="1689" y="906" font-size="10" fill="#000" text-anchor="start" font-weight="normal" textLength="10" lengthAdjust="spacingAndGlyphs" >15</text>
<text x="1689" y="924" font-size="10" fill="#000" text-anchor="start" font-weight="normal" textLength="5" lengthAdjust="spacingAndGlyphs" >0</text>
<rect x="1685" y="90" width="41" height="11" fill="#ff0000"/>
<text x="1689.5" y="100" font-size="10" fill="#fff" text-anchor="start" font-weight="normal" textLength="32" lengthAdjust="spacingAndGlyphs" >110.254</text>
<rect x="1685" y="110" width="41" height="11" fill="#ff0000"/>
<text x="1689.5" y="120" font-size="10" fill="#fff" text-anchor="start" font-weight="normal" textLength="32" lengthAdjust="spacingAndGlyphs" >109.927</text>
<rect x="1685" y="130" width="41" height="11" fill="#000000"/>
<text x="1689.5" y="140" font-size="10" fill="#fff" text-anchor="start" font-weight="normal" textLength="32" lengthAdjust="spacingAndGlyphs" >109.606</text>
<rect x="1685" y="140" width="41" height="11" fill="#00ced1"/>
<text x="1689.5" y="150" font-size="10" fill="#fff" text-anchor="start" font-weight="normal" textLength="32" lengthAdjust="spacingAndGlyphs" >109.438</text>
<rect x="1685" y="155" width="41" height="11" fill="#0000ff"/>
<text x="1689.5" y="165" font-size="10" fill="#fff" text-anchor="start" font-weight="normal" textLength="32" lengthAdjust="spacingAndGlyphs" >109.193</text>
<rect x="1685" y="174" width="41" height="11" fill="#0000ff"/>
<text x="1689.5" y="184" font-size="10" fill="#fff" text-anchor="start" font-weight="normal" textLength="32" lengthAdjust="spacingAndGlyphs" >108.883</text>
<rect x="-4" y="928" width="1" height="3" fill="#000"/>
<text x="-4.5" y="940.3" font-size="10" fill="#000" text-anchor="start" font-weight="normal" textLength="50.9" lengthAdjust="spacingAndGlyphs" >13 Oct 2020</text>
<rect x="60" y="928" width="1" height="3" fill="#000"/>
<text x="59.5" y="940.3" font-size="10" fill="#000" text-anchor="start" font-weight="normal" textLength="50.9" lengthAdjust="spacingAndGlyphs" >22 Oct 2020</text>
<rect x="124" y="928" width="1" height="3" fill="#000"/>
<text x="123.5" y="940.3" font-size="10" fill="#000" text-anchor="start" font-weight="normal" textLength="47.8" lengthAdjust="spacingAndGlyphs" >1 Nov 2020</text>
<rect x="188" y="928" width="1" height="3" fill="#000"/>
<text x="187.5" y="940.3" font-size="10" fill="#000" text-anchor="start" font-weight="normal" textLength="53.0" lengthAdjust="spacingAndGlyphs" >10 Nov 2020</text>
<rect x="252" y="928" width="1" height="3" fill="#000"/>
<text x="251.5" y="940.3" font-size="10" fill="#000" text-anchor="start" font-weight="normal" textLength="53.0" lengthAdjust="spacingAndGlyphs" >19 Nov 2020</text>
<rect x="316" y="928" width="1" height="3" fill="#000"/>
<text x="315.5" y="940.3" font-size="10" fill="#000" text-anchor="start" font-weight="normal" textLength="53.0" lengthAdjust="spacingAndGlyphs" >29 Nov 2020</text>
<rect x="380" y="928" width="1" height="3" fill="#000"/>
<text x="379.5" y="940.3" font-size="10" fill="#000" text-anchor="start" font-weight="normal" textLength="47.8" lengthAdjust="spacingAndGlyphs" >8 Dec 2020</text>
<rect x="444" y="928" width="1" height="3" fill="#000"/>
<text x="443.5" y="940.3" font-size="10" fill="#000" text-anchor="start" font-weight="normal" textLength="53.0" lengthAdjust="spacingAndGlyphs" >17 Dec 2020</text>
<rect x="508" y="928" width="1" height="3" fill="#000"/>
<text x="507.5" y="940.3" font-size="10" fill="#000" text-anchor="start" font-weight="normal" textLength="53.0" lengthAdjust="spacingAndGlyphs" >28 Dec 2020</text>
<rect x="572" y="928" width="1" height="3" fill="#000"/>
<text x="571.5" y="940.3" font-size="10" fill="#000" text-anchor="start" font-weight="normal" textLength="46.3" lengthAdjust="spacingAndGlyphs" >7 Jan 2021</text>
<rect x="636" y="928" width="1" height="3" fill="#000"/>
<text x="635.5" y="940.3" font-size="10" fill="#000" text-anchor="start" font-weight="normal" textLength="51.5" lengthAdjust="spacingAndGlyphs" >17 Jan 2021</text>
<rect x="700" y="928" width="1" height="3" fill="#000"/>
<text x="699.5" y="940.3" font-size="10" fill="#000" text-anchor="start" font-weight="normal" textLength="51.5" lengthAdjust="spacingAndGlyphs" >26 Jan 2021</text>
<rect x="764" y="928" width="1" height="3" fill="#000"/>
<text x="763.5" y="940.3" font-size="10" fill="#000" text-anchor="start" font-weight="normal" textLength="47.3" lengthAdjust="spacingAndGlyphs" >4 Feb 2021</text>
<rect x="828" y="928" width="1" height="3" fill="#000"/>
<text x="827.5" y="940.3" font-size="10" fill="#000" text-anchor="start" font-weight="normal" textLength="52.5" lengthAdjust="spacingAndGlyphs" >14 Feb 2021</text>
<rect x="892" y="928" width="1" height="3" fill="#000"/>
<text x="891.5" y="940.3" font-size="10" fill="#000" text-anchor="start" font-weight="normal" textLength="52.5" lengthAdjust="spacingAndGlyphs" >23 Feb 2021</text>
<rect x="956" y="928" width="1" height="3" fill="#000"/>
<text x="955.5" y="940.3" font-size="10" fill="#000" text-anchor="start" font-weight="normal" textLength="47.3" lengthAdjust="spacingAndGlyphs" >4 Mar 2021</text>
<rect x="1020" y="928" width="1" height="3" fill="#000"/>
<text x="1019.5" y="940.3" font-size="10" fill="#000" text-anchor="start" font-weight="normal" textLength="52.5" lengthAdjust="spacingAndGlyphs" >14 Mar 2021</text>
<rect x="1084" y="928" width="1" height="3" fill="#000"/>
<text x="1083.5" y="940.3" font-size="10" fill="#000" text-anchor="start" font-weight="normal" textLength="52.5" lengthAdjust="spacingAndGlyphs" >23 Mar 2021</text>
<rect x="1148" y="928" width="1" height="3" fill="#000"/>
<text x="1147.5" y="940.3" font-size="10" fill="#000" text-anchor="start" font-weight="normal" textLength="45.2" lengthAdjust="spacingAndGlyphs" >1 Apr 2021</text>
<rect x="1212" y="928" width="1" height="3" fill="#000"/>
<text x="1211.5" y="940.3" font-size="10" fill="#000" text-anchor="start" font-weight="normal" textLength="50.4" lengthAdjust="spacingAndGlyphs" >12 Apr 2021</text>
<rect x="1276" y="928" width="1" height="3" fill="#000"/>
<text x="1275.5" y="940.3" font-size="10" fill="#000" text-anchor="start" font-weight="normal" textLength="50.4" lengthAdjust="spacingAndGlyphs" >21 Apr 2021</text>
<rect x="1340" y="928" width="1" height="3" fill="#000"/>
<text x="1339.5" y="940.3" font-size="10" fill="#000" text-anchor="start" font-weight="normal" textLength="50.4" lengthAdjust="spacingAndGlyphs" >30 Apr 2021</text>
<rect x="1404" y="928" width="1" height="3" fill="#000"/>
<text x="1403.5" y="940.3" font-size="10" fill="#000" text-anchor="start" font-weight="normal" textLength="54.1" lengthAdjust="spacingAndGlyphs" >10 May 2021</text>
<path d="M-0.5,37 L6,37 L2.75,33 Z" fill="#000"/>
<text x="11.7" y="38" font-size="9.6" fill="#000" text-anchor="start" font-weight="normal" textLength="210" lengthAdjust="spacingAndGlyphs" >USDJPY-,Daily&#160;&#160;108.706 109.701 108.656 109.606</text>
<text x="1" y="594" font-size="10" fill="#000" text-anchor="start" font-weight="normal" textLength="126" lengthAdjust="spacingAndGlyphs" >MACD(12,26,9) 0.0618 0.0345</text>
<text x="1" y="766" font-size="10" fill="#000" text-anchor="start" font-weight="normal" textLength="67" lengthAdjust="spacingAndGlyphs" >RSI(14) 60.4676</text>
<path d="M1424,27 L1433,27 L1428.5,32 Z" fill="#c0c0c0"/>
<rect x="1069.5" y="44.5" width="61" height="18" fill="#fff" stroke="#ff0000" stroke-width="1"/>
<text x="1100.0" y="60.5" font-size="16" fill="#ff0000" text-anchor="middle" font-weight="normal" textLength="57" lengthAdjust="spacingAndGlyphs" >110.956</text>
<polyline points="1131,53.5 1140.5,53.5" fill="none" stroke="#ff0000" stroke-width="1" shape-rendering="crispEdges"/>
<rect x="1013.5" y="201.5" width="61" height="18" fill="#fff" stroke="#ff0000" stroke-width="1"/>
<text x="1044.0" y="217.5" font-size="16" fill="#ff0000" text-anchor="middle" font-weight="normal" textLength="57" lengthAdjust="spacingAndGlyphs" >108.393</text>
<polyline points="1075,210.5 1084.5,210.5" fill="none" stroke="#ff0000" stroke-width="1" shape-rendering="crispEdges"/>
<rect x="1221.5" y="258.5" width="61" height="18" fill="#fff" stroke="#ff0000" stroke-width="1"/>
<text x="1252.0" y="274.5" font-size="16" fill="#ff0000" text-anchor="middle" font-weight="normal" textLength="57" lengthAdjust="spacingAndGlyphs" >107.463</text>
<polyline points="1283,267.5 1292.5,267.5" fill="none" stroke="#ff0000" stroke-width="1" shape-rendering="crispEdges"/>
<rect x="1245.5" y="137.5" width="61" height="18" fill="#fff" stroke="#ff0000" stroke-width="1"/>
<text x="1276.0" y="153.5" font-size="16" fill="#ff0000" text-anchor="middle" font-weight="normal" textLength="57" lengthAdjust="spacingAndGlyphs" >109.438</text>
<polyline points="1307,146.5 1317,146.5" fill="none" stroke="#ff0000" stroke-width="1" shape-rendering="crispEdges"/>
<rect x="1285.5" y="121.5" width="61" height="18" fill="#fff" stroke="#ff0000" stroke-width="1"/>
<text x="1316.0" y="137.5" font-size="16" fill="#ff0000" text-anchor="middle" font-weight="normal" textLength="57" lengthAdjust="spacingAndGlyphs" >109.699</text>
<polyline points="1347,130.5 1357,130.5" fill="none" stroke="#ff0000" stroke-width="1" shape-rendering="crispEdges"/>
<rect x="1307.5" y="144.5" width="3" height="3" fill="#fff" stroke="#ff0000" stroke-width="1"/>
<rect x="1377" y="141" width="89" height="10" fill="#00e600"/>
<path transform="translate(1462.50,159) scale(1.6)" d="M5,0.3 L1.5,3.5 M4,1.5 L9,1.5 L3,6.5 M3.5,3 L5,4.3 M7,5.5 L2,10 M6,7 L11,7 L2.5,12 M5,8.5 L6.5,9.8" fill="none" stroke="#00ff00" stroke-width="0.812" stroke-linecap="square" shape-rendering="auto"/>
<path transform="translate(1483.70,159) scale(1.6)" d="M6,0.2 L6,1.5 M1,3.5 L1,1.8 L11,1.8 L11,3.5 M4.5,3.5 L2,6 M7.5,3.5 L10,6 M2.5,7 L9.5,7 M6,7 L6,11.2 M1,11.3 L11,11.3" fill="none" stroke="#00ff00" stroke-width="0.812" stroke-linecap="square" shape-rendering="auto"/>
<path transform="translate(1504.90,159) scale(1.6)" d="M0.5,2.5 L5,2.5 M3,0.5 L0.8,7.2 L5,7.2 M3,4.5 L3,12 M0.3,9.3 L5.5,9.3 M6.5,2.5 L11.5,2.5 M9.5,0.3 L8,6 M6,5.5 L12,5.5 M8,6 L11,8 L8.5,11.5 M9.5,10.5 L10.5,12" fill="none" stroke="#00ff00" stroke-width="0.812" stroke-linecap="square" shape-rendering="auto"/>
<path transform="translate(1526.10,159) scale(1.6)" d="M0.5,3.5 L5,3.5 M2.8,0.3 L2.8,11.2 L1.8,10.5 M0.3,8.5 L5,6.8 M11.5,0.8 L7,2 M7,2 L7,7 Q6.8,10 6,11.5 M7,5 L12,5 M9.8,5 L9.8,12" fill="none" stroke="#00ff00" stroke-width="0.812" stroke-linecap="square" shape-rendering="auto"/>
<path transform="translate(1547.30,159) scale(1.6)" d="M6,0.3 L6,5 M6,2.5 L10,2.5 M2.5,5 L9.5,5 L9.5,8.3 L2.5,8.3 Z M1.5,9.5 L0.5,11.5 M4.5,9.8 L4.8,11.5 M7.2,9.8 L7.8,11.5 M10,9.5 L11.5,11.5" fill="none" stroke="#00ff00" stroke-width="0.812" stroke-linecap="square" shape-rendering="auto"/>
<line x1="1293" y1="276" x2="1356.3153162246049" y2="138.58231367548734" stroke="#ff0000" stroke-width="3.5"/>
<path d="M1360.5,129.5 L1360.9277676748184,142.90958667582194 L1350.0289912642334,137.8879661453477 Z" fill="#ff0000"/>
<line x1="1360.5" y1="129.5" x2="1407.7226185169598" y2="205.5059288511066" stroke="#ff0000" stroke-width="3.5"/>
<path d="M1413,214 L1401.5706995310156,206.9735435111521 L1411.7635849096878,200.64068573150374 Z" fill="#ff0000"/>
<line x1="1413" y1="214" x2="1454.1232817185007" y2="116.21797458045366" stroke="#ff0000" stroke-width="3.5"/>
<path d="M1458,107 L1458.8787228104732,120.38760046544391 L1447.8171533139287,115.73553852764488 Z" fill="#ff0000"/>
<line x1="1303" y1="728" x2="1351.9744395350765" y2="701.3264213246458" stroke="#ff0000" stroke-width="3"/>
<path d="M1359,697.5 L1352.6095627467491,706.6740019463845 L1347.826536090942,697.89205136523 Z" fill="#ff0000"/>
<line x1="1353" y1="697.5" x2="1411.0" y2="697.5" stroke="#ff0000" stroke-width="3"/>
<path d="M1419,697.5 L1409.0,702.5 L1409.0,692.5 Z" fill="#ff0000"/>
<line x1="1305" y1="858" x2="1333.3372159419882" y2="822.9952038363674" stroke="#ff0000" stroke-width="3.5"/>
<path d="M1339,816 L1335.9650438381898,827.6956847211222 L1328.1925951311148,821.4037024344425 Z" fill="#ff0000"/>
<line x1="1341" y1="816" x2="1385.5337102714252" y2="845.9746126826901" stroke="#ff0000" stroke-width="3.5"/>
<path d="M1393,851 L1381.0826529332364,849.0057986836072 L1386.6664166191365,840.709921207413 Z" fill="#ff0000"/>
<line x1="1393" y1="851" x2="1436.1107930429837" y2="827.3313293097344" stroke="#ff0000" stroke-width="3.5"/>
<path d="M1444,823 L1436.763930002388,832.6767396880178 L1431.9513418804609,823.9109541802219 Z" fill="#ff0000"/>
<defs>
<linearGradient id="gTab" x1="0" y1="0" x2="0" y2="1"><stop offset="0" stop-color="#5a5aff"/><stop offset="1" stop-color="#3f36e6"/></linearGradient>
<linearGradient id="gPx" x1="0" y1="0" x2="0" y2="1"><stop offset="0" stop-color="#3a2ee0"/><stop offset="0.55" stop-color="#1a10c8"/><stop offset="1" stop-color="#0000b4"/></linearGradient>
<linearGradient id="gBtn" x1="0" y1="0" x2="0" y2="1"><stop offset="0" stop-color="#eeeeee"/><stop offset="0.45" stop-color="#e6e6e6"/><stop offset="0.5" stop-color="#d9d9d9"/><stop offset="1" stop-color="#d0d0d0"/></linearGradient>
</defs>
<rect id="panelbg" x="0" y="45" width="220" height="66" fill="#fff"/>
<!-- SELL -->
<rect x="0" y="46" width="51" height="25" fill="#0000a0"/>
<rect x="0" y="47" width="50" height="23" fill="url(#gTab)"/>
<rect x="0" y="70" width="108" height="40" fill="#0000a0"/>
<rect x="1" y="71" width="106" height="38" fill="url(#gPx)"/>
<rect x="0" y="70" width="50" height="1" fill="url(#gTab)"/>
<rect x="3" y="69" width="45" height="1" fill="#10109a"/>
<rect x="3" y="70" width="45" height="1" fill="#7878ff"/>
<!-- BUY -->
<rect x="166" y="46" width="52" height="25" fill="#0000a0"/>
<rect x="167" y="47" width="50" height="23" fill="url(#gTab)"/>
<rect x="110" y="70" width="108" height="40" fill="#0000a0"/>
<rect x="111" y="71" width="106" height="38" fill="url(#gPx)"/>
<rect x="167" y="70" width="50" height="1" fill="url(#gTab)"/>
<rect x="170" y="69" width="45" height="1" fill="#10109a"/>
<rect x="170" y="70" width="45" height="1" fill="#7878ff"/>
<!-- spin control -->
<rect x="53" y="46" width="111" height="22" fill="#a9a9a9"/>
<rect x="54" y="47" width="109" height="20" fill="#ffffff"/>
<rect x="54" y="47" width="21" height="20" fill="#a9a9a9"/>
<rect x="55" y="48" width="19" height="18" fill="#ffffff"/>
<rect x="56" y="49" width="17" height="16" fill="url(#gBtn)"/>
<rect x="142" y="47" width="21" height="20" fill="#a9a9a9"/>
<rect x="143" y="48" width="19" height="18" fill="#ffffff"/>
<rect x="144" y="49" width="17" height="16" fill="url(#gBtn)"/>
<path d="M61,55 L66,55 L63.5,58 Z" fill="#4a64b4" shape-rendering="auto"/>
<path d="M150,58 L155,58 L152.5,55 Z" fill="#4a64b4" shape-rendering="auto"/>
<text x="138.5" y="61" font-size="11" fill="#000" text-anchor="end" textLength="22" lengthAdjust="spacingAndGlyphs">1.00</text>
<!-- labels -->
<text x="11.5" y="62" font-size="11" fill="#fff" textLength="25" lengthAdjust="spacingAndGlyphs">SELL</text>
<text x="179.5" y="62" font-size="11" fill="#fff" textLength="23.5" lengthAdjust="spacingAndGlyphs">BUY</text>
<text x="23" y="101.5" font-size="12.5" font-weight="bold" fill="#fff" textLength="20" lengthAdjust="spacingAndGlyphs">109</text>
<text x="47.5" y="101.5" font-size="33" fill="#fff" textLength="34" lengthAdjust="spacingAndGlyphs">60</text>
<text x="86" y="85.5" font-size="12.5" font-weight="bold" fill="#fff" textLength="7" lengthAdjust="spacingAndGlyphs">6</text>
<text x="132.5" y="101.5" font-size="12.5" font-weight="bold" fill="#fff" textLength="20.5" lengthAdjust="spacingAndGlyphs">109</text>
<text x="158.5" y="101.5" font-size="33" fill="#fff" textLength="33" lengthAdjust="spacingAndGlyphs">69</text>
<text x="197" y="85.5" font-size="12.5" font-weight="bold" fill="#fff" textLength="7.5" lengthAdjust="spacingAndGlyphs">7</text>

</svg>
</body></html>
